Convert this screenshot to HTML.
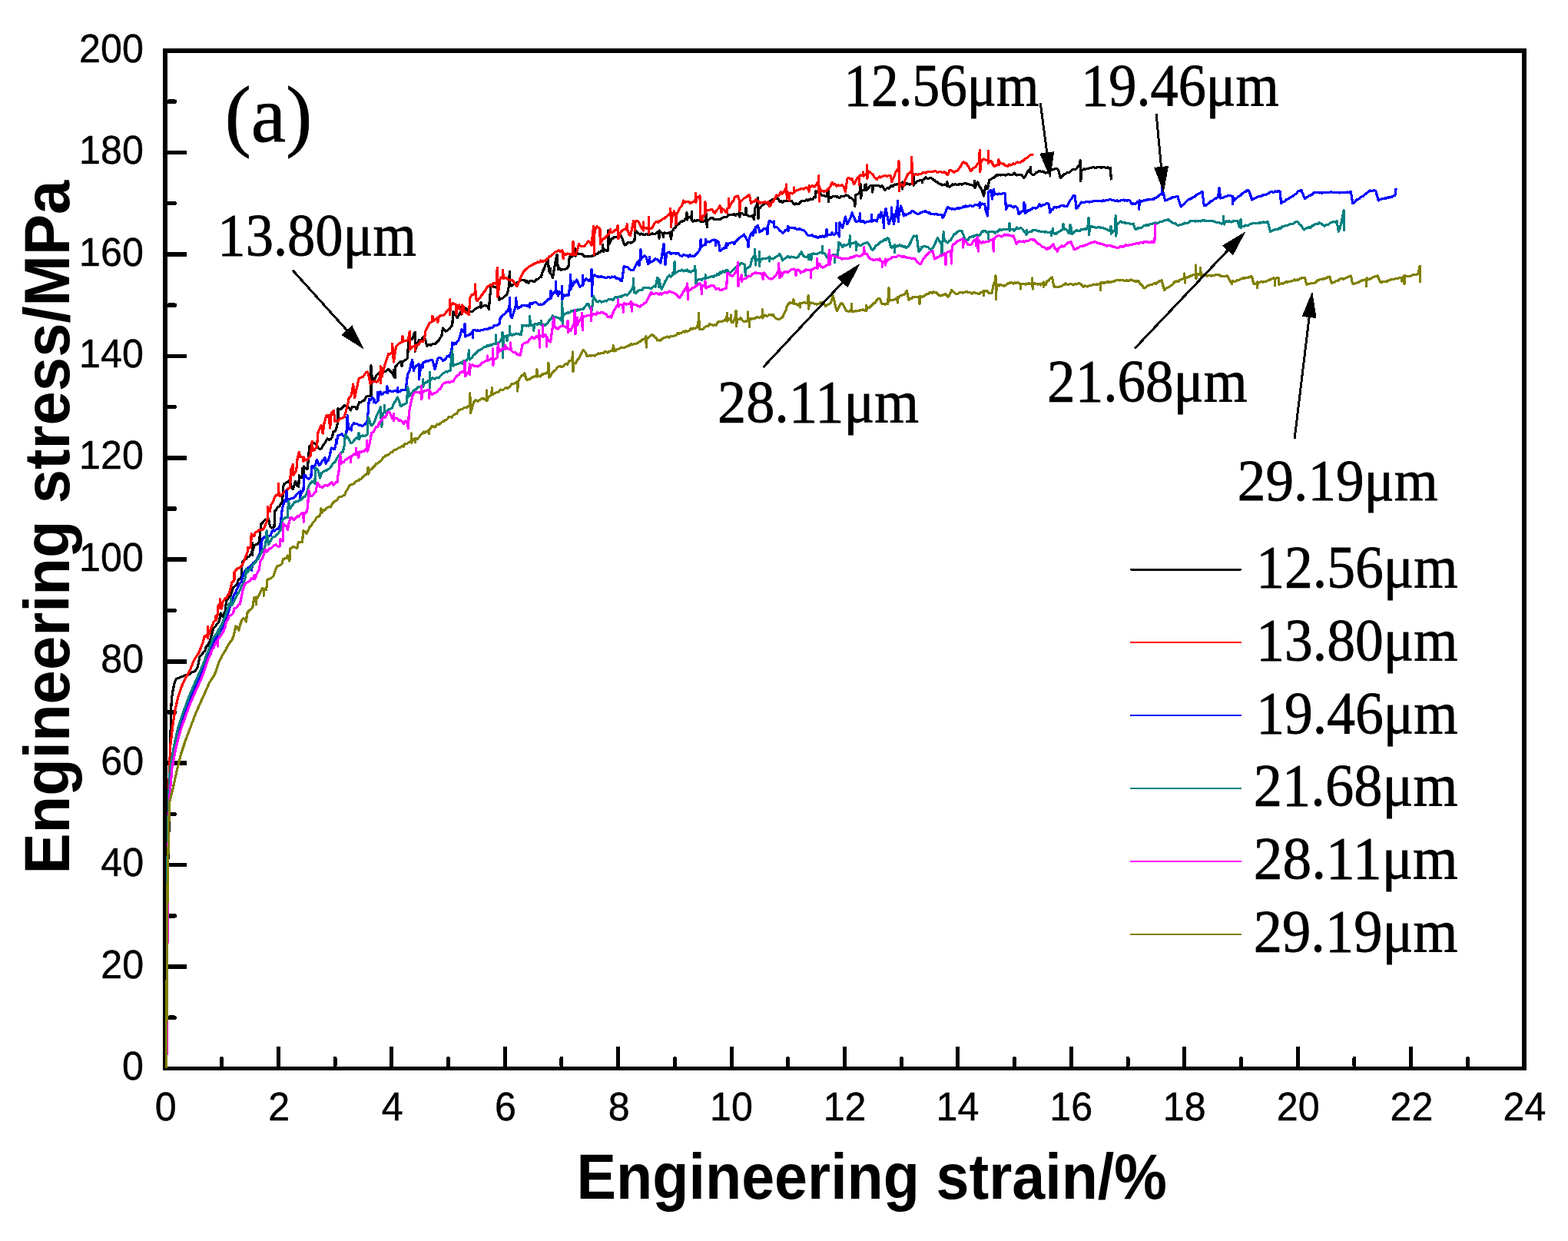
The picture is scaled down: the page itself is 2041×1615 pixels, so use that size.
<!DOCTYPE html>
<html><head><meta charset="utf-8"><title>Engineering stress-strain curves</title>
<style>html,body{margin:0;padding:0;background:#fff;}svg{display:block;}</style></head>
<body>
<svg width="2041" height="1615" viewBox="0 0 2041 1615" shape-rendering="crispEdges">
<rect x="0" y="0" width="2041" height="1615" fill="#fff"/>
<g fill="#000">
<rect x="212" y="63" width="6" height="1330"/>
<rect x="212" y="63" width="1775" height="6"/>
<rect x="1981" y="63" width="6" height="1330"/>
<rect x="212" y="1388" width="1775" height="5"/>
<rect x="286.21" y="1375" width="5" height="14" rx="2.5"/>
<rect x="359.92" y="1362" width="5" height="27"/>
<rect x="433.63" y="1375" width="5" height="14" rx="2.5"/>
<rect x="507.34" y="1362" width="5" height="27"/>
<rect x="581.05" y="1375" width="5" height="14" rx="2.5"/>
<rect x="654.76" y="1362" width="5" height="27"/>
<rect x="728.47" y="1375" width="5" height="14" rx="2.5"/>
<rect x="802.18" y="1362" width="5" height="27"/>
<rect x="875.89" y="1375" width="5" height="14" rx="2.5"/>
<rect x="949.6" y="1362" width="5" height="27"/>
<rect x="1023.31" y="1375" width="5" height="14" rx="2.5"/>
<rect x="1097.02" y="1362" width="5" height="27"/>
<rect x="1170.73" y="1375" width="5" height="14" rx="2.5"/>
<rect x="1244.44" y="1362" width="5" height="27"/>
<rect x="1318.15" y="1375" width="5" height="14" rx="2.5"/>
<rect x="1391.86" y="1362" width="5" height="27"/>
<rect x="1465.57" y="1375" width="5" height="14" rx="2.5"/>
<rect x="1539.28" y="1362" width="5" height="27"/>
<rect x="1612.99" y="1375" width="5" height="14" rx="2.5"/>
<rect x="1686.7" y="1362" width="5" height="27"/>
<rect x="1760.41" y="1375" width="5" height="14" rx="2.5"/>
<rect x="1834.12" y="1362" width="5" height="27"/>
<rect x="1907.83" y="1375" width="5" height="14" rx="2.5"/>
<rect x="217" y="1321.48" width="13" height="5.6" rx="2.8"/>
<rect x="217" y="1255.25" width="26" height="5.6"/>
<rect x="217" y="1189.03" width="13" height="5.6" rx="2.8"/>
<rect x="217" y="1122.8" width="26" height="5.6"/>
<rect x="217" y="1056.58" width="13" height="5.6" rx="2.8"/>
<rect x="217" y="990.35" width="26" height="5.6"/>
<rect x="217" y="924.12" width="13" height="5.6" rx="2.8"/>
<rect x="217" y="857.9" width="26" height="5.6"/>
<rect x="217" y="791.68" width="13" height="5.6" rx="2.8"/>
<rect x="217" y="725.45" width="26" height="5.6"/>
<rect x="217" y="659.23" width="13" height="5.6" rx="2.8"/>
<rect x="217" y="593" width="26" height="5.6"/>
<rect x="217" y="526.78" width="13" height="5.6" rx="2.8"/>
<rect x="217" y="460.55" width="26" height="5.6"/>
<rect x="217" y="394.33" width="13" height="5.6" rx="2.8"/>
<rect x="217" y="328.1" width="26" height="5.6"/>
<rect x="217" y="261.87" width="13" height="5.6" rx="2.8"/>
<rect x="217" y="195.65" width="26" height="5.6"/>
<rect x="217" y="129.43" width="13" height="5.6" rx="2.8"/>
</g>
<path d="M216.8,1390.0 L217.3,1250.0 L218.0,1150.0 L220.0,1080.0 L221.4,1000.0 L221.9,958.9 L222.9,919.3 L223.4,909.4 L224.9,899.5 L226.9,889.6 L229.3,883.6 L236.8,880.6 L241.7,878.7 L246.7,877.7 L249.7,874.7 L253.6,873.7 L256.6,869.7 L258.6,862.8 L259.6,854.9 L261.4,852.9 L263.1,851.7 L264.9,848.5 L266.8,847.2 L268.6,841.0 L270.5,839.6 L272.3,836.6 L274.1,831.4 L276.0,824.0 L278.2,817.3 L280.1,815.7 L282.0,812.8 L283.9,810.6 L285.7,806.9 L287.1,798.0 L290.1,802.4 L293.1,795.0 L294.6,781.6 L296.6,779.1 L298.5,777.0 L300.5,774.2 L303.5,764.5 L305.2,763.4 L307.0,761.8 L308.7,759.3 L310.9,753.4 L313.9,753.4 L314.9,736.7 L316.1,730.5 L318.2,728.5 L320.4,727.4 L322.5,725.0 L324.5,723.9 L326.6,721.2 L328.3,717.3 L328.5,706.7 L328.7,722.3 L328.9,717.3 L329.9,713.3 L331.6,709.4 L333.7,708.2 L335.7,707.9 L337.8,705.1 L338.4,692.1 L340.2,681.0 L341.9,680.4 L343.5,678.1 L345.2,676.0 L347.4,677.2 L349.5,674.8 L351.4,684.7 L353.3,687.1 L355.1,686.4 L357.0,685.9 L357.6,665.5 L359.8,663.0 L361.9,659.3 L363.6,659.0 L365.2,656.1 L366.9,653.7 L367.8,649.8 L368.4,634.3 L369.6,630.0 L371.3,629.3 L372.9,627.4 L374.6,627.5 L377.1,625.0 L379.2,633.6 L381.4,636.8 L384.5,626.3 L386.6,631.8 L388.8,633.1 L389.4,618.8 L391.3,621.0 L393.1,620.9 L393.3,609.7 L393.6,621.1 L395.0,617.0 L395.6,607.1 L397.8,609.2 L400.0,610.8 L401.8,595.9 L402.4,581.1 L404.3,579.2 L406.1,578.4 L408.0,576.7 L410.5,577.3 L412.4,580.1 L414.2,582.7 L416.1,584.8 L418.5,583.7 L420.9,579.0 L422.7,576.8 L424.5,573.3 L426.3,570.8 L428.4,572.2 L430.4,571.7 L432.5,568.8 L433.8,562.0 L435.9,561.7 L437.9,557.2 L439.9,548.3 L439.9,531.3 L441.6,532.9 L443.4,532.7 L445.8,530.4 L448.1,527.9 L450.5,528.2 L452.9,529.3 L454.6,531.2 L456.3,534.0 L458.4,529.5 L460.4,529.3 L462.4,529.9 L464.5,532.7 L466.2,527.1 L467.9,523.1 L469.9,523.4 L472.0,521.5 L474.0,521.1 L476.7,516.3 L478.8,515.7 L480.8,515.3 L482.9,515.3 L482.9,475.5 L484.7,498.0 L486.4,495.1 L488.1,491.9 L489.9,488.7 L491.6,486.7 L493.3,485.9 L495.1,485.6 L496.8,485.3 L498.5,485.1 L500.3,483.3 L502.0,483.3 L504.1,481.2 L506.3,480.7 L508.2,483.4 L510.2,484.8 L512.1,488.4 L512.4,481.3 L512.6,490.0 L514.1,491.9 L514.1,477.2 L515.8,476.5 L517.6,474.0 L519.3,472.0 L521.0,470.7 L522.8,471.5 L523.0,476.2 L523.3,470.6 L524.5,470.3 L526.3,469.4 L528.5,467.8 L530.6,465.9 L531.5,445.1 L533.2,442.7 L535.0,440.6 L536.7,441.7 L538.4,436.0 L540.1,432.1 L540.1,457.3 L541.8,451.6 L543.6,446.5 L545.3,442.5 L547.0,443.6 L548.8,441.8 L550.5,439.0 L552.3,438.2 L554.0,443.4 L555.7,450.3 L557.5,448.8 L559.2,448.9 L561.0,449.1 L562.7,447.7 L564.4,447.3 L566.2,447.6 L567.9,445.9 L569.6,444.3 L571.3,442.6 L573.1,439.5 L574.8,437.3 L576.5,426.9 L578.2,429.3 L580.0,431.3 L581.7,430.5 L583.5,428.9 L585.2,427.6 L587.0,425.3 L588.7,423.5 L590.0,405.4 L591.8,408.2 L593.6,410.7 L595.4,413.5 L597.0,410.2 L598.7,407.2 L600.3,405.8 L600.5,399.6 L600.7,409.0 L600.9,405.8 L602.0,402.7 L603.6,399.9 L605.3,400.9 L607.0,401.6 L608.7,405.0 L610.4,406.7 L612.1,405.9 L613.8,405.4 L615.5,404.9 L617.2,403.3 L618.9,401.7 L620.6,400.8 L622.4,400.1 L624.1,399.2 L625.8,399.7 L626.0,393.6 L626.3,400.4 L627.5,399.0 L629.2,398.4 L630.9,397.2 L632.7,397.9 L634.5,398.5 L636.3,402.6 L639.0,371.3 L640.6,370.6 L642.3,373.5 L643.9,373.4 L645.6,373.9 L647.2,375.4 L649.9,390.4 L651.7,389.0 L653.5,388.4 L655.3,387.3 L657.2,385.2 L659.0,384.7 L660.8,380.9 L662.5,372.0 L663.3,353.6 L664.0,371.3 L665.8,372.0 L667.5,370.4 L669.3,369.7 L671.1,369.1 L672.8,368.0 L674.6,368.2 L676.4,365.8 L678.1,363.7 L679.9,364.5 L681.5,364.4 L683.1,365.0 L684.8,367.4 L686.4,365.8 L688.0,368.6 L689.6,365.7 L691.3,365.4 L692.9,365.3 L694.6,366.8 L696.2,366.1 L697.8,363.8 L699.5,363.4 L701.1,362.5 L702.8,360.6 L704.4,360.4 L706.2,353.6 L708.0,350.1 L709.8,345.4 L711.5,340.9 L713.2,337.4 L714.5,352.0 L716.1,355.3 L716.3,349.3 L716.6,355.8 L717.8,357.3 L719.4,361.8 L721.3,350.4 L723.1,340.1 L725.0,331.3 L726.4,350.4 L728.4,349.0 L730.4,351.7 L732.0,350.1 L733.6,350.9 L735.2,350.5 L736.8,349.8 L738.4,348.9 L740.0,346.3 L741.3,334.0 L743.1,334.9 L744.9,333.0 L746.8,332.7 L748.6,331.6 L748.8,323.6 L749.1,333.2 L750.4,329.9 L752.2,330.0 L754.1,330.4 L756.0,330.4 L758.0,331.0 L759.9,333.0 L761.8,334.0 L763.6,333.3 L765.4,334.1 L767.2,333.2 L769.1,333.2 L770.9,333.0 L772.7,332.7 L774.4,332.3 L776.1,330.2 L777.8,330.8 L779.5,327.9 L781.2,328.4 L782.9,326.3 L784.6,326.8 L784.8,318.7 L785.1,328.0 L786.3,324.5 L787.9,325.1 L789.6,326.6 L791.2,325.9 L791.8,300.0 L792.5,318.0 L794.1,315.7 L795.8,310.9 L797.6,310.4 L799.5,308.1 L801.3,308.1 L803.0,308.6 L804.7,309.3 L806.4,307.7 L808.1,306.8 L809.9,310.5 L811.8,316.3 L813.6,319.0 L815.3,317.7 L817.1,315.8 L818.8,315.7 L820.6,316.0 L822.3,315.9 L824.1,314.3 L825.8,313.6 L827.2,300.0 L829.2,302.3 L831.3,304.1 L832.9,305.1 L834.6,304.0 L836.2,304.5 L837.8,305.6 L839.5,305.7 L841.1,304.6 L842.7,305.0 L844.3,305.7 L846.0,305.1 L847.6,304.1 L849.3,304.0 L851.0,304.3 L852.7,304.9 L854.4,303.4 L856.1,301.6 L857.8,301.3 L858.0,310.1 L858.3,300.0 L859.5,302.2 L861.2,302.7 L863.0,303.7 L863.2,308.8 L863.5,303.6 L864.8,302.8 L866.7,303.7 L868.5,303.5 L870.3,303.2 L872.1,302.7 L873.5,310.9 L875.0,300.0 L876.0,300.0 L877.4,297.0 L879.1,295.9 L880.7,292.7 L882.4,292.0 L884.0,291.5 L885.6,288.7 L887.2,288.2 L888.8,287.8 L890.5,287.6 L892.1,284.9 L893.7,285.5 L893.9,276.3 L894.2,286.0 L895.3,283.6 L896.9,282.7 L898.5,282.1 L900.4,286.1 L900.6,275.5 L900.9,286.2 L902.2,288.3 L903.9,286.8 L905.7,287.8 L907.4,286.8 L909.2,286.7 L910.9,287.1 L912.8,288.5 L914.6,287.8 L916.4,288.2 L918.3,287.1 L919.0,283.0 L919.6,278.4 L920.2,295.8 L921.0,287.0 L923.4,285.2 L925.8,283.4 L927.4,283.5 L929.1,285.1 L930.8,285.5 L932.4,285.5 L934.1,285.9 L935.7,285.8 L937.4,285.6 L939.1,284.1 L940.9,283.4 L942.6,282.5 L944.3,282.1 L946.4,282.2 L948.4,279.3 L950.5,279.6 L952.2,279.2 L954.0,279.5 L955.7,278.7 L957.5,280.3 L959.2,278.4 L960.9,279.0 L962.5,278.5 L962.7,267.1 L962.9,282.6 L963.1,278.5 L964.2,277.5 L965.8,277.3 L967.5,279.0 L969.1,279.4 L970.8,279.2 L971.0,270.8 L971.2,279.7 L972.4,279.8 L974.0,280.8 L975.7,281.2 L977.4,281.6 L979.0,280.9 L981.5,285.8 L982.7,271.0 L984.4,267.6 L986.0,265.0 L986.5,257.3 L987.0,284.6 L987.7,271.0 L989.8,270.1 L991.8,267.5 L993.9,266.0 L995.5,265.0 L997.1,264.1 L998.7,265.1 L1000.3,263.6 L1002.0,261.8 L1003.6,262.4 L1005.2,259.6 L1006.8,259.5 L1008.4,259.2 L1010.0,258.6 L1011.2,257.2 L1013.0,259.0 L1014.9,262.1 L1016.7,261.4 L1018.4,263.4 L1020.2,261.9 L1022.0,261.5 L1023.8,260.8 L1025.5,261.5 L1027.3,260.9 L1029.0,261.8 L1030.8,261.8 L1032.5,264.6 L1034.3,266.1 L1036.0,264.6 L1037.8,265.5 L1039.5,265.5 L1041.3,263.8 L1043.1,261.8 L1044.9,261.1 L1046.6,261.7 L1048.4,260.9 L1050.0,260.0 L1051.7,261.1 L1053.3,259.7 L1055.0,258.8 L1056.6,259.3 L1058.2,259.5 L1059.9,256.2 L1061.5,257.2 L1062.0,248.5 L1063.7,250.7 L1065.5,250.1 L1067.2,250.6 L1069.0,253.4 L1070.7,254.7 L1072.5,254.6 L1074.4,255.3 L1076.2,254.9 L1076.5,250.2 L1076.8,255.2 L1078.1,255.3 L1078.3,245.1 L1078.5,262.6 L1078.7,255.3 L1080.0,257.2 L1081.8,257.2 L1083.4,256.0 L1085.0,255.8 L1086.6,255.4 L1088.2,256.0 L1089.8,255.9 L1091.5,257.0 L1093.1,257.5 L1094.7,255.5 L1096.3,255.4 L1097.9,255.9 L1099.6,255.2 L1101.2,253.8 L1102.8,254.6 L1104.5,255.0 L1106.2,257.3 L1107.8,257.2 L1110.0,259.2 L1112.2,262.1 L1112.8,268.3 L1114.0,253.5 L1115.9,252.8 L1117.7,252.1 L1119.6,249.0 L1120.2,239.8 L1120.8,258.0 L1121.5,248.0 L1123.9,247.3 L1125.7,247.1 L1125.9,240.8 L1126.2,247.9 L1127.4,246.0 L1127.6,239.9 L1127.9,247.4 L1129.2,245.8 L1131.0,244.3 L1132.7,241.6 L1134.5,242.0 L1135.1,241.1 L1135.7,250.0 L1136.4,243.0 L1138.1,241.3 L1139.8,241.7 L1141.6,241.9 L1143.3,241.5 L1145.0,242.3 L1146.0,243.3 L1147.9,241.9 L1149.8,244.1 L1151.7,247.2 L1153.5,246.1 L1155.3,244.5 L1157.1,245.3 L1158.8,243.1 L1160.6,241.4 L1162.4,242.4 L1164.2,240.0 L1166.0,240.7 L1167.6,239.4 L1169.2,239.0 L1170.9,238.4 L1172.5,239.2 L1174.1,238.4 L1174.3,246.0 L1174.6,237.0 L1175.8,238.5 L1177.4,240.3 L1179.0,240.0 L1180.6,238.3 L1182.2,239.5 L1183.9,240.2 L1185.5,239.4 L1187.1,239.0 L1188.8,237.7 L1189.0,226.4 L1189.2,241.2 L1189.3,237.7 L1190.4,238.0 L1192.0,238.1 L1193.6,235.7 L1195.2,235.6 L1196.9,235.0 L1198.5,234.2 L1200.1,234.2 L1200.3,237.5 L1200.6,234.2 L1201.8,233.8 L1203.4,232.8 L1205.0,231.0 L1206.6,232.2 L1208.2,232.6 L1209.9,231.9 L1211.5,231.6 L1213.1,232.3 L1214.8,233.9 L1216.4,234.6 L1218.0,236.8 L1219.6,236.4 L1221.2,238.4 L1222.9,239.1 L1224.5,239.5 L1226.1,241.0 L1227.8,240.4 L1229.4,240.1 L1231.0,240.7 L1232.7,242.4 L1232.9,236.4 L1233.2,242.5 L1234.5,241.8 L1236.2,243.3 L1238.2,241.7 L1240.1,239.9 L1242.0,240.3 L1244.0,239.4 L1245.6,240.6 L1247.2,240.6 L1248.9,239.4 L1250.5,239.7 L1252.1,240.2 L1253.8,239.6 L1255.4,238.6 L1257.0,238.1 L1258.6,239.8 L1260.2,239.4 L1261.9,240.5 L1263.5,240.5 L1265.1,240.9 L1266.8,241.2 L1268.4,243.0 L1268.6,235.5 L1268.9,244.7 L1270.0,242.0 L1272.6,236.8 L1274.3,241.7 L1276.1,244.0 L1277.8,247.2 L1280.4,255.0 L1283.0,242.0 L1285.5,245.4 L1287.7,234.5 L1289.8,233.6 L1291.8,231.8 L1293.6,231.9 L1295.5,229.4 L1297.3,227.7 L1299.0,228.2 L1300.6,227.3 L1302.3,228.0 L1303.9,227.1 L1305.6,227.4 L1307.2,227.4 L1308.9,228.0 L1310.5,227.9 L1312.2,226.3 L1313.8,227.4 L1315.4,227.8 L1317.0,227.6 L1318.6,226.8 L1320.2,225.0 L1321.9,226.9 L1323.5,228.2 L1325.1,227.1 L1326.7,227.5 L1328.3,227.5 L1329.9,227.7 L1332.7,231.8 L1334.4,229.4 L1336.1,226.7 L1337.8,222.6 L1339.5,220.9 L1341.3,224.6 L1341.5,217.4 L1341.8,224.9 L1343.1,226.8 L1344.9,227.7 L1346.7,226.8 L1348.5,224.7 L1350.3,224.4 L1352.2,222.7 L1354.0,222.9 L1355.8,223.6 L1357.4,222.9 L1359.1,224.1 L1360.7,225.2 L1362.4,224.2 L1364.0,224.9 L1365.8,222.4 L1367.6,221.9 L1369.4,220.9 L1371.0,220.4 L1372.7,219.9 L1374.3,219.7 L1376.0,219.3 L1377.6,220.9 L1380.3,231.8 L1382.1,229.8 L1384.0,228.1 L1385.8,226.3 L1387.4,226.2 L1389.1,224.7 L1390.7,224.5 L1392.3,224.3 L1393.9,222.9 L1395.6,220.8 L1397.2,220.2 L1398.8,220.5 L1400.5,220.2 L1402.1,218.1 L1403.8,216.2 L1405.6,214.0 L1406.2,208.6 L1406.8,235.8 L1407.5,222.0 L1409.2,221.1 L1411.0,220.0 L1412.7,220.7 L1414.4,219.5 L1416.1,219.4 L1417.8,218.8 L1419.5,218.7 L1421.2,218.1 L1423.1,217.7 L1425.0,218.1 L1426.8,218.4 L1428.5,217.6 L1430.2,217.7 L1431.8,217.8 L1433.5,218.1 L1435.2,217.9 L1436.9,217.3 L1438.6,217.9 L1440.3,218.6 L1441.9,217.9 L1443.6,219.1 L1445.3,218.4 L1446.4,234.5" fill="none" stroke="#000000" stroke-width="3.2" stroke-linejoin="round" stroke-linecap="butt" shape-rendering="crispEdges"/>
<path d="M216.8,1390.0 L217.3,1250.0 L218.0,1120.0 L219.5,1040.0 L220.4,1000.0 L221.9,968.8 L224.9,944.1 L227.9,924.2 L231.8,907.4 L236.8,892.5 L241.7,881.6 L246.7,873.7 L252.2,860.0 L254.1,856.7 L255.9,853.9 L257.8,851.4 L259.7,847.7 L262.6,839.6 L264.5,834.9 L266.3,827.7 L268.3,828.1 L270.3,825.9 L270.5,815.3 L270.7,830.4 L270.9,825.9 L272.3,825.4 L274.5,818.0 L276.4,814.1 L278.2,809.1 L280.4,807.4 L280.6,801.8 L280.9,807.6 L282.7,803.2 L284.2,787.5 L286.0,790.5 L286.2,779.8 L286.5,791.7 L287.9,788.3 L288.6,792.0 L290.1,783.1 L293.1,778.6 L294.8,778.6 L296.6,774.6 L298.3,772.7 L299.8,766.7 L302.0,757.8 L305.0,754.9 L305.0,744.5 L307.1,742.0 L309.3,739.8 L311.4,739.0 L313.4,737.8 L315.5,734.8 L317.6,730.5 L319.8,724.3 L322.3,718.1 L322.3,712.5 L324.5,713.0 L326.6,711.9 L327.2,694.6 L329.1,696.9 L331.0,697.1 L332.2,693.3 L333.9,692.3 L335.5,691.3 L337.2,689.6 L339.2,689.9 L341.3,689.7 L343.3,687.8 L345.2,683.6 L347.1,679.7 L348.3,674.8 L348.3,659.3 L351.4,665.5 L352.6,657.4 L355.7,652.5 L357.4,647.5 L359.1,644.8 L360.8,643.7 L362.5,644.1 L362.7,629.5 L363.0,644.5 L364.2,645.7 L365.9,644.8 L368.0,642.7 L370.2,639.9 L372.4,638.4 L374.6,636.2 L377.7,634.3 L378.3,612.6 L381.4,604.6 L382.0,618.8 L383.9,615.0 L385.7,612.6 L387.0,597.8 L389.4,588.5 L390.7,594.7 L393.2,594.7 L394.8,596.2 L395.0,601.0 L395.3,594.9 L396.5,598.5 L398.1,599.0 L400.2,598.4 L402.2,595.2 L404.3,592.8 L406.2,574.2 L407.4,586.6 L409.1,585.9 L410.7,583.7 L412.4,581.7 L414.1,562.0 L416.1,557.9 L418.1,553.8 L420.2,564.0 L422.2,549.7 L425.0,540.8 L427.7,540.2 L429.7,557.2 L431.1,538.1 L432.8,535.8 L434.5,534.7 L435.9,548.3 L437.9,547.2 L439.9,548.3 L441.5,545.8 L443.2,544.6 L444.8,544.4 L446.5,543.5 L448.1,542.9 L450.8,533.4 L452.6,526.3 L454.3,517.7 L456.0,516.4 L457.7,512.9 L459.7,500.0 L461.7,517.7 L463.5,508.5 L465.4,500.6 L467.2,492.5 L469.0,491.8 L470.8,490.8 L472.6,490.4 L474.6,487.4 L476.6,484.6 L478.6,484.1 L480.4,490.5 L482.1,499.7 L484.0,496.8 L485.8,496.6 L487.7,496.6 L489.6,497.1 L491.4,496.8 L493.3,492.8 L495.0,492.0 L495.2,476.7 L495.4,498.7 L495.6,492.0 L496.8,488.7 L497.0,478.7 L497.3,490.3 L498.5,484.1 L500.2,478.0 L502.0,471.1 L503.8,466.1 L505.5,460.7 L507.2,461.1 L509.0,459.7 L510.7,458.1 L510.7,447.7 L512.4,471.1 L514.1,459.4 L515.9,450.3 L517.9,448.8 L519.9,446.5 L521.9,446.0 L523.9,444.1 L524.1,437.2 L524.4,444.8 L526.0,443.7 L528.0,443.4 L529.8,443.2 L531.5,441.7 L533.2,431.3 L533.2,454.7 L534.9,453.3 L536.7,451.5 L538.4,450.5 L540.1,451.1 L540.3,456.1 L540.6,449.7 L541.9,450.5 L543.6,448.6 L545.3,448.2 L547.1,444.2 L548.8,444.0 L550.6,444.4 L552.3,441.7 L554.0,430.4 L555.7,426.9 L557.5,424.1 L559.2,420.0 L561.0,419.3 L562.7,417.9 L562.9,411.1 L563.2,418.2 L564.5,417.3 L566.2,415.8 L568.0,415.0 L569.7,413.4 L569.9,419.3 L570.2,413.0 L571.5,412.9 L573.2,410.8 L574.9,410.3 L576.7,410.2 L578.4,409.5 L580.1,407.4 L581.9,404.9 L583.6,403.0 L585.4,401.3 L585.6,389.8 L585.8,409.8 L586.0,401.3 L587.1,397.5 L588.9,394.7 L590.0,394.5 L591.9,395.9 L593.8,396.8 L594.0,409.1 L594.3,396.6 L595.7,398.5 L597.6,400.9 L597.8,396.8 L598.0,402.5 L598.2,400.9 L599.5,403.2 L601.3,403.3 L601.5,396.9 L601.7,408.3 L601.9,403.3 L603.1,404.2 L603.3,398.7 L603.6,405.7 L605.0,404.7 L606.8,407.2 L608.6,406.9 L610.4,409.5 L611.8,387.7 L613.9,384.0 L615.9,383.3 L618.0,382.0 L618.6,370.0 L619.3,388.0 L621.3,391.7 L623.0,388.7 L624.7,387.8 L626.4,384.7 L628.1,383.2 L629.8,380.3 L631.5,378.6 L633.2,375.2 L634.9,372.7 L636.6,371.8 L638.2,370.5 L639.9,372.0 L641.5,369.0 L643.2,368.5 L644.8,369.1 L646.5,368.0 L647.2,348.2 L647.8,386.3 L649.5,373.1 L651.3,361.8 L653.0,360.8 L654.6,361.4 L654.8,351.2 L655.1,362.6 L656.3,361.6 L658.0,361.2 L659.6,362.6 L661.3,363.4 L663.0,364.1 L664.6,364.1 L666.3,364.5 L668.0,365.7 L669.7,368.5 L671.4,371.2 L673.1,372.7 L674.8,367.8 L676.5,364.2 L678.2,360.4 L679.9,356.3 L681.7,353.2 L683.5,351.5 L685.3,349.5 L686.9,348.8 L688.6,347.0 L690.2,346.0 L691.9,345.3 L693.5,344.1 L695.2,343.8 L696.9,342.1 L698.6,342.1 L700.3,340.7 L702.0,341.8 L703.7,339.1 L705.4,340.3 L707.1,340.0 L708.7,339.5 L710.4,338.9 L712.0,337.1 L713.6,335.9 L715.2,333.2 L716.9,333.8 L718.5,331.5 L720.1,330.6 L721.7,328.6 L723.4,327.5 L725.0,327.2 L726.7,325.9 L728.4,326.7 L730.1,327.6 L731.8,325.9 L732.5,330.0 L733.2,336.8 L734.0,330.0 L736.3,331.6 L738.6,329.9 L740.4,330.5 L742.2,330.6 L744.0,331.6 L745.9,330.3 L746.1,314.3 L746.4,331.6 L747.7,331.0 L749.5,331.3 L751.5,325.3 L753.6,317.7 L755.4,320.0 L757.3,320.6 L759.1,320.4 L760.8,320.6 L762.5,318.1 L764.2,316.2 L765.9,313.6 L768.0,315.7 L770.0,319.0 L772.0,300.0 L772.7,294.5 L773.3,331.3 L774.0,300.0 L776.8,294.5 L778.8,296.2 L780.9,297.2 L781.3,317.7 L783.1,314.4 L784.9,310.9 L786.7,310.5 L788.5,308.7 L790.3,306.4 L792.2,304.6 L794.0,302.3 L794.2,298.1 L794.5,302.9 L795.8,302.7 L797.7,302.1 L799.6,300.1 L801.5,299.6 L803.4,298.0 L804.0,293.2 L804.7,310.9 L807.1,304.7 L809.5,300.0 L811.6,298.9 L813.6,298.6 L815.7,296.0 L816.3,291.8 L817.0,300.0 L818.7,304.6 L820.4,306.8 L822.5,298.9 L824.5,287.7 L826.2,289.7 L826.4,299.6 L826.7,288.7 L827.9,288.1 L829.6,287.2 L831.3,289.1 L833.3,292.7 L835.4,297.2 L837.1,296.5 L837.3,288.9 L837.5,300.2 L837.7,296.5 L838.9,296.1 L840.6,297.3 L842.4,296.5 L844.1,298.3 L844.3,282.4 L844.5,303.7 L844.7,298.3 L845.9,298.0 L847.6,297.2 L849.4,295.5 L851.3,292.0 L853.1,289.1 L854.7,288.6 L856.3,289.5 L858.0,287.9 L859.6,287.3 L861.2,286.3 L863.0,284.7 L864.8,284.1 L866.7,282.5 L868.5,281.1 L870.3,279.4 L872.1,278.2 L872.8,271.4 L873.5,295.9 L874.5,282.0 L875.5,282.0 L877.4,274.7 L879.3,280.0 L879.9,292.0 L880.5,280.0 L882.1,276.1 L883.7,273.4 L885.4,269.9 L887.0,268.9 L888.6,264.8 L889.8,261.1 L891.5,263.3 L893.3,262.5 L895.0,262.5 L896.8,262.4 L898.5,264.8 L900.2,263.8 L902.0,262.9 L903.7,262.4 L905.5,259.1 L905.7,251.4 L905.9,263.6 L906.1,259.1 L907.2,257.3 L909.0,256.6 L910.9,254.9 L912.1,285.8 L914.0,282.4 L914.2,286.8 L914.5,281.1 L915.9,281.3 L917.7,277.8 L917.9,262.7 L918.2,278.6 L919.6,273.5 L921.7,273.2 L923.7,273.6 L925.8,272.2 L927.4,273.4 L929.1,276.0 L930.7,277.2 L932.8,273.8 L934.8,271.9 L936.9,267.3 L938.8,271.3 L939.0,276.5 L939.2,271.1 L940.6,272.0 L942.4,272.9 L944.3,275.9 L946.4,272.8 L946.6,277.0 L946.9,271.2 L948.4,270.2 L948.6,258.3 L948.9,270.9 L950.5,267.3 L952.6,263.4 L954.6,261.7 L956.7,256.1 L958.5,255.9 L960.4,254.9 L962.3,260.0 L962.9,274.7 L963.6,262.0 L965.4,261.2 L967.3,259.4 L969.1,257.3 L971.2,256.7 L973.2,254.5 L975.3,253.6 L977.8,264.8 L979.9,262.7 L981.9,262.3 L984.0,259.8 L985.6,261.9 L987.3,261.5 L988.9,264.8 L990.5,263.5 L992.1,263.3 L993.7,263.6 L995.3,262.9 L996.9,263.2 L998.5,264.2 L1000.1,262.3 L1001.3,268.5 L1003.0,267.4 L1004.8,262.9 L1006.5,262.5 L1008.3,259.4 L1010.0,256.1 L1010.5,254.0 L1012.4,254.9 L1014.3,253.8 L1016.2,249.7 L1017.8,252.6 L1019.5,250.7 L1021.1,248.5 L1023.0,245.0 L1023.6,239.8 L1024.3,258.4 L1025.0,250.0 L1027.4,251.7 L1027.6,260.6 L1027.9,251.5 L1029.8,251.0 L1031.6,251.9 L1033.3,250.0 L1033.5,244.0 L1033.8,250.8 L1035.1,249.2 L1036.9,247.8 L1038.7,247.9 L1040.4,246.3 L1042.2,246.0 L1044.0,245.6 L1045.7,246.2 L1047.5,244.9 L1049.3,244.1 L1051.1,245.7 L1052.8,243.6 L1053.0,249.1 L1053.3,241.8 L1054.6,243.5 L1056.4,242.1 L1058.3,242.0 L1060.2,243.5 L1062.0,241.1 L1065.1,236.0 L1065.7,228.7 L1066.3,262.1 L1067.0,245.0 L1068.8,248.3 L1070.7,248.5 L1072.4,249.7 L1074.1,248.2 L1075.9,248.5 L1077.6,246.3 L1079.3,244.8 L1081.2,242.1 L1083.1,237.3 L1085.2,240.1 L1087.2,239.6 L1089.3,242.3 L1091.0,240.6 L1092.7,241.4 L1094.5,241.2 L1096.2,240.8 L1097.9,242.3 L1100.4,249.7 L1102.9,232.4 L1105.0,231.6 L1107.0,233.7 L1109.1,232.4 L1111.6,239.8 L1113.2,236.9 L1114.9,233.6 L1116.5,231.2 L1118.2,230.4 L1118.4,240.3 L1118.7,228.7 L1120.0,227.9 L1121.7,228.8 L1123.5,228.5 L1123.7,223.9 L1124.0,229.8 L1125.2,227.4 L1126.8,227.0 L1128.5,226.6 L1128.7,214.8 L1128.9,232.5 L1129.1,226.6 L1130.1,222.5 L1132.2,224.1 L1134.2,225.5 L1136.3,227.4 L1138.0,230.6 L1139.6,231.8 L1141.3,233.6 L1143.2,231.2 L1145.0,229.9 L1146.0,231.0 L1147.7,230.0 L1149.4,229.6 L1151.1,228.7 L1152.8,228.3 L1154.4,229.8 L1156.1,228.4 L1157.8,228.2 L1159.5,229.0 L1160.8,236.8 L1162.5,232.3 L1164.3,228.6 L1166.0,223.8 L1167.7,221.4 L1169.3,220.0 L1169.9,209.5 L1170.5,248.5 L1171.2,240.0 L1172.9,239.5 L1174.7,240.7 L1176.4,242.0 L1178.1,234.4 L1179.9,231.2 L1181.6,226.4 L1183.9,225.3 L1186.2,222.0 L1186.8,204.3 L1187.4,239.4 L1188.0,228.0 L1189.7,227.6 L1191.3,227.0 L1192.9,226.3 L1194.6,227.7 L1196.3,226.2 L1198.1,226.5 L1199.8,225.8 L1201.5,224.6 L1203.3,224.8 L1205.0,225.1 L1206.6,223.8 L1208.2,223.6 L1209.9,223.5 L1211.5,223.8 L1213.1,223.3 L1214.8,223.4 L1216.4,222.5 L1218.0,222.5 L1219.6,224.1 L1221.2,224.3 L1222.9,223.1 L1224.5,223.5 L1226.1,224.6 L1227.8,224.5 L1229.4,223.8 L1231.0,225.1 L1233.6,227.7 L1236.2,221.2 L1238.2,221.5 L1240.1,223.1 L1242.0,224.3 L1244.0,222.5 L1246.0,222.6 L1247.9,219.9 L1249.5,217.9 L1251.2,215.0 L1252.8,212.0 L1254.4,210.8 L1256.2,212.1 L1258.0,213.0 L1259.9,215.7 L1261.7,219.2 L1263.5,222.5 L1265.1,220.7 L1266.8,218.7 L1268.4,218.2 L1270.0,217.3 L1272.3,213.1 L1274.6,212.0 L1275.2,195.2 L1275.8,223.8 L1276.5,212.0 L1278.5,208.7 L1280.4,206.9 L1282.3,207.9 L1284.2,208.4 L1286.2,208.7 L1286.4,196.3 L1286.6,212.9 L1286.8,208.7 L1288.1,210.9 L1290.0,209.5 L1291.0,211.0 L1293.2,215.4 L1294.8,216.7 L1296.4,215.3 L1298.1,214.5 L1299.7,213.6 L1299.9,207.4 L1300.2,214.9 L1301.3,211.3 L1303.0,212.4 L1304.8,213.2 L1306.5,213.1 L1308.2,215.4 L1310.0,215.3 L1311.8,216.8 L1313.6,214.0 L1315.4,215.0 L1317.2,214.5 L1319.0,212.7 L1320.8,213.3 L1322.6,212.0 L1324.5,210.9 L1326.3,211.9 L1328.1,211.4 L1329.9,210.0 L1331.8,209.5 L1333.7,207.2 L1335.7,205.7 L1337.6,205.0 L1339.5,203.2 L1341.3,201.4 L1343.1,201.3 L1344.9,201.1 L1345.3,201.6" fill="none" stroke="#FF0000" stroke-width="3.2" stroke-linejoin="round" stroke-linecap="butt" shape-rendering="crispEdges"/>
<path d="M216.8,1390.0 L217.3,1250.0 L218.0,1120.0 L220.0,1040.0 L222.5,1000.0 L227.5,972.0 L233.0,949.0 L239.5,930.0 L246.5,911.0 L253.5,895.5 L261.0,878.5 L269.3,860.0 L271.1,853.3 L272.9,849.7 L274.6,844.0 L274.8,850.8 L275.1,842.5 L276.4,839.1 L278.2,835.1 L280.0,832.7 L281.8,829.9 L283.5,827.9 L285.3,824.9 L285.5,820.2 L285.8,825.0 L287.1,821.0 L289.4,816.5 L291.6,811.3 L293.6,806.2 L295.5,802.2 L297.5,796.5 L299.4,789.5 L301.3,781.6 L303.1,778.0 L304.9,773.9 L306.7,771.0 L308.5,766.7 L310.3,762.3 L312.1,759.5 L313.9,757.8 L316.1,749.6 L318.4,743.0 L320.3,741.5 L322.2,739.8 L324.1,738.2 L326.0,736.7 L327.6,735.0 L327.8,742.4 L328.1,734.9 L329.2,732.9 L330.9,731.8 L332.5,730.4 L334.1,728.0 L336.1,724.0 L338.2,719.8 L338.4,708.0 L338.7,720.4 L340.2,718.1 L340.2,705.7 L342.1,700.8 L344.6,698.3 L346.7,698.7 L348.7,698.3 L350.8,697.1 L352.4,696.7 L354.1,691.8 L355.7,689.6 L357.8,691.0 L359.8,688.8 L361.9,688.4 L365.0,682.2 L366.3,671.7 L367.5,661.1 L369.2,656.0 L370.9,650.4 L372.8,650.6 L372.9,638.5 L373.2,652.6 L374.6,652.9 L376.2,649.8 L377.9,649.6 L379.5,648.5 L381.7,648.2 L383.9,646.7 L385.5,644.2 L387.2,642.3 L388.8,641.1 L390.6,640.2 L390.8,650.9 L391.1,638.9 L392.5,641.7 L395.0,637.4 L395.6,618.2 L397.5,618.6 L399.3,621.9 L401.8,623.2 L404.9,620.7 L405.5,607.1 L407.4,606.2 L409.3,609.5 L412.4,598.4 L415.4,605.8 L417.3,604.3 L419.1,600.0 L421.0,598.4 L422.9,595.3 L424.1,603.3 L425.8,600.6 L427.4,598.6 L429.1,592.8 L431.5,582.9 L433.4,583.6 L435.3,584.8 L437.6,576.1 L437.8,572.0 L438.1,576.9 L439.9,566.7 L441.5,566.6 L443.1,565.7 L444.7,564.7 L446.4,566.7 L448.1,568.8 L450.8,565.4 L452.2,540.8 L453.6,558.6 L455.3,558.0 L457.0,556.8 L457.2,560.1 L457.5,555.2 L458.7,553.5 L460.4,550.4 L462.8,551.9 L465.1,551.7 L466.8,553.4 L468.6,553.1 L470.3,553.9 L472.0,554.5 L474.0,552.8 L476.1,551.1 L478.1,547.0 L479.5,532.7 L480.3,519.7 L482.5,520.7 L484.7,517.1 L486.4,520.3 L486.6,523.8 L486.9,519.2 L488.2,524.1 L489.9,524.0 L491.6,521.2 L491.8,510.3 L492.1,521.9 L493.4,512.9 L495.1,509.3 L496.8,513.6 L498.5,512.3 L500.3,510.2 L502.0,510.1 L503.7,510.3 L503.9,502.7 L504.2,511.8 L505.5,509.4 L507.2,508.5 L509.0,509.1 L510.7,509.3 L512.4,509.0 L514.1,508.7 L515.9,508.9 L517.6,510.0 L517.8,504.7 L518.1,510.3 L519.3,509.3 L521.0,509.8 L522.8,507.2 L524.5,507.6 L526.3,507.6 L528.0,507.5 L530.6,487.6 L533.2,482.4 L535.0,474.1 L536.7,468.5 L538.4,482.4 L540.5,477.2 L542.7,475.5 L545.3,473.7 L545.3,493.7 L547.9,476.3 L549.9,473.9 L550.1,478.5 L550.4,472.1 L552.0,471.8 L554.0,470.3 L555.7,469.8 L557.5,470.0 L559.2,469.0 L561.0,468.1 L562.7,468.5 L564.4,474.1 L566.1,480.7 L567.9,474.0 L569.6,466.8 L571.3,465.5 L573.0,465.9 L574.8,466.9 L576.5,469.4 L578.2,468.5 L580.0,467.4 L581.7,463.9 L583.5,463.1 L585.2,464.2 L587.8,456.4 L588.7,446.0 L590.0,449.0 L591.7,446.3 L593.4,447.5 L595.1,444.4 L596.8,443.5 L598.8,437.5 L600.9,428.5 L602.6,429.9 L604.3,433.0 L605.0,421.7 L605.7,438.0 L607.7,437.0 L609.8,436.1 L611.8,435.3 L613.6,433.7 L615.4,431.2 L615.6,439.6 L615.9,429.5 L617.2,429.9 L618.8,429.8 L620.4,430.2 L622.0,429.9 L623.6,430.3 L625.2,430.2 L626.9,429.4 L628.5,429.7 L630.1,428.7 L631.7,428.7 L633.3,428.0 L634.9,428.5 L636.6,426.8 L638.2,427.1 L639.9,426.5 L641.6,425.9 L643.2,423.3 L644.9,423.5 L646.6,423.6 L648.2,422.4 L649.9,421.7 L651.3,413.5 L653.2,411.6 L655.1,409.6 L657.0,408.6 L658.9,406.3 L660.8,404.0 L663.0,400.0 L663.5,387.7 L664.2,410.0 L666.3,413.5 L668.6,406.3 L671.0,400.0 L671.7,387.7 L672.4,398.0 L674.4,401.3 L676.0,399.8 L677.7,399.3 L679.3,397.8 L681.0,397.3 L682.6,397.2 L684.3,397.1 L686.0,398.3 L687.7,397.8 L689.4,396.1 L689.6,400.1 L689.9,394.8 L691.1,394.8 L692.8,395.2 L694.5,394.2 L696.2,393.1 L698.0,393.3 L699.7,395.2 L701.5,396.7 L703.2,396.0 L705.0,396.7 L706.7,395.9 L708.5,394.5 L710.1,393.1 L711.8,391.5 L713.5,389.7 L715.1,389.0 L716.8,387.8 L717.0,378.0 L717.2,388.5 L718.4,383.8 L720.0,381.9 L721.7,380.3 L723.4,377.7 L723.6,366.2 L723.8,381.1 L724.0,377.7 L725.0,379.0 L726.5,385.0 L728.0,380.0 L729.7,381.2 L731.5,383.2 L731.7,372.6 L731.9,390.4 L732.1,383.2 L733.2,383.1 L734.9,385.1 L736.6,384.1 L738.3,383.8 L740.0,384.4 L742.2,370.0 L742.7,357.2 L743.3,376.0 L744.1,373.5 L745.8,370.8 L747.5,366.8 L749.2,367.4 L750.9,364.0 L753.0,369.4 L755.0,373.5 L756.6,371.9 L758.2,370.0 L758.4,358.7 L758.7,371.6 L759.9,367.0 L761.5,364.2 L763.1,362.6 L764.9,364.2 L766.8,365.8 L768.6,365.4 L769.5,360.0 L770.0,350.4 L770.5,385.8 L771.2,362.0 L774.0,357.2 L775.7,359.4 L777.4,360.0 L779.1,360.0 L780.9,360.9 L782.6,359.2 L784.3,360.3 L786.0,360.9 L787.7,361.3 L789.4,361.2 L791.2,360.8 L792.9,360.5 L794.7,361.6 L796.4,360.0 L798.2,360.2 L799.9,359.9 L801.5,362.2 L803.1,361.7 L804.7,362.6 L806.3,363.1 L807.9,365.2 L809.5,365.4 L812.2,346.3 L814.0,347.3 L815.8,347.4 L817.7,348.1 L819.5,350.7 L821.3,351.2 L823.1,351.7 L824.8,351.4 L826.5,347.6 L828.2,343.8 L829.9,340.8 L831.8,339.9 L832.0,345.4 L832.3,338.8 L833.7,337.9 L833.9,324.2 L834.2,338.1 L835.6,335.7 L837.5,334.0 L839.4,332.7 L841.5,335.1 L843.5,343.6 L845.1,341.4 L845.3,334.4 L845.6,341.9 L846.7,341.4 L848.3,340.3 L849.9,339.7 L851.5,338.6 L853.1,336.8 L854.8,337.9 L856.5,337.9 L858.2,340.1 L859.9,342.2 L862.0,330.3 L864.0,317.7 L866.0,345.0 L867.5,330.0 L869.4,328.6 L871.3,328.0 L873.1,330.2 L875.0,330.0 L876.0,329.2 L878.1,329.3 L880.3,330.1 L882.4,329.2 L884.2,331.9 L886.1,332.9 L887.8,333.9 L889.5,331.5 L891.2,331.8 L892.9,332.3 L894.6,332.3 L896.2,334.5 L897.9,331.8 L899.6,333.5 L901.3,333.0 L903.0,333.8 L904.7,332.3 L906.8,330.5 L908.8,328.0 L910.9,325.5 L911.5,318.0 L912.1,311.9 L912.8,322.0 L914.6,319.3 L916.5,319.1 L918.3,316.4 L918.5,311.5 L918.7,318.3 L918.9,316.4 L920.1,315.3 L922.0,314.3 L923.9,315.0 L925.8,313.2 L927.6,312.6 L929.5,311.9 L931.6,312.9 L931.8,319.6 L932.1,312.9 L933.6,313.8 L935.7,315.6 L936.9,326.7 L939.0,325.7 L941.0,323.1 L943.1,323.0 L945.0,320.6 L945.2,316.2 L945.4,322.3 L945.6,320.6 L946.8,319.6 L948.6,316.9 L950.5,316.8 L952.2,315.8 L954.0,315.1 L955.7,317.8 L957.5,314.7 L959.2,313.1 L961.1,310.9 L962.9,309.4 L964.8,307.6 L966.6,306.9 L968.3,305.0 L969.9,307.8 L971.6,310.6 L973.5,315.0 L974.1,321.8 L974.8,312.0 L976.6,306.9 L978.2,303.4 L979.9,302.2 L980.1,306.4 L980.4,301.3 L981.5,299.5 L983.2,296.9 L983.4,302.6 L983.7,295.6 L984.9,295.3 L986.5,293.3 L988.9,302.0 L990.8,300.7 L992.7,299.5 L994.5,297.6 L996.4,298.0 L998.3,296.0 L998.9,305.0 L999.5,294.5 L1001.3,287.1 L1003.2,288.1 L1005.1,289.7 L1007.0,290.0 L1007.5,288.1 L1008.0,296.0 L1009.6,295.6 L1011.2,295.6 L1013.3,298.0 L1015.3,300.2 L1017.4,301.8 L1019.0,303.6 L1020.7,301.6 L1022.3,299.7 L1024.0,298.6 L1025.6,298.4 L1025.8,294.4 L1026.0,300.2 L1026.2,298.4 L1027.3,295.6 L1029.0,296.9 L1030.6,296.3 L1032.3,296.1 L1033.9,297.0 L1035.6,297.0 L1037.2,298.7 L1038.9,298.5 L1040.5,297.8 L1042.2,298.1 L1043.8,299.1 L1045.5,299.6 L1047.1,300.5 L1048.8,302.5 L1050.4,304.9 L1052.1,306.7 L1053.8,306.8 L1055.4,306.6 L1057.1,305.9 L1058.7,307.5 L1060.4,308.1 L1062.0,307.8 L1063.7,309.0 L1065.3,309.1 L1067.0,308.0 L1068.8,308.3 L1070.5,306.9 L1072.3,308.6 L1074.0,306.9 L1075.8,306.8 L1076.0,298.6 L1076.3,307.4 L1077.5,305.8 L1079.3,305.5 L1081.1,305.8 L1082.8,302.8 L1084.6,305.2 L1086.4,305.1 L1088.2,302.9 L1088.4,290.1 L1088.7,303.9 L1089.9,303.8 L1091.7,304.3 L1092.3,308.0 L1093.0,289.4 L1094.8,294.0 L1096.7,296.8 L1098.6,288.9 L1100.4,282.0 L1102.9,291.9 L1105.0,287.1 L1107.0,283.3 L1109.1,277.0 L1110.7,280.7 L1112.4,284.7 L1114.0,288.1 L1115.7,288.2 L1117.3,287.7 L1119.0,287.1 L1119.2,277.4 L1119.5,287.4 L1120.6,288.6 L1122.3,287.9 L1123.9,287.7 L1125.6,290.1 L1127.2,289.0 L1128.9,288.1 L1130.7,288.9 L1132.4,287.2 L1134.2,287.4 L1134.4,279.7 L1134.7,288.5 L1136.0,287.4 L1137.8,286.7 L1139.5,287.0 L1141.3,288.1 L1143.8,279.5 L1146.0,283.0 L1147.0,276.0 L1149.8,285.0 L1150.4,296.6 L1151.0,280.0 L1153.0,271.9 L1155.0,281.6 L1156.9,291.4 L1158.6,286.6 L1160.4,282.0 L1160.6,269.9 L1160.9,283.2 L1162.1,278.4 L1163.4,291.4 L1165.7,278.5 L1168.0,270.0 L1168.6,261.5 L1169.2,288.8 L1170.0,280.0 L1172.5,268.0 L1174.5,273.7 L1176.4,281.0 L1178.1,279.0 L1179.7,280.0 L1181.4,278.3 L1183.1,277.9 L1184.8,277.6 L1186.4,275.0 L1188.1,274.5 L1189.7,275.7 L1191.3,276.8 L1193.0,277.5 L1194.6,278.4 L1196.3,278.1 L1198.1,276.9 L1199.8,276.4 L1201.5,275.5 L1203.3,275.4 L1205.0,274.5 L1206.6,275.9 L1208.2,277.0 L1209.9,276.7 L1211.5,278.4 L1213.1,278.1 L1214.8,278.5 L1216.4,279.1 L1218.0,278.4 L1220.0,279.0 L1221.9,279.9 L1223.8,279.4 L1225.8,279.7 L1227.1,283.6 L1228.7,280.8 L1230.3,276.7 L1232.0,272.9 L1233.6,269.3 L1235.3,270.6 L1237.1,271.6 L1238.8,272.3 L1240.5,271.5 L1242.3,272.6 L1244.0,271.9 L1245.6,270.9 L1247.2,271.1 L1248.9,271.0 L1250.5,270.8 L1252.1,270.3 L1253.8,268.8 L1255.4,269.5 L1257.0,268.0 L1258.6,269.0 L1260.2,268.4 L1261.9,267.7 L1263.5,267.2 L1265.1,268.6 L1266.8,268.6 L1268.4,267.0 L1270.0,266.7 L1271.7,266.8 L1273.3,267.0 L1275.0,265.0 L1275.2,270.4 L1275.5,263.4 L1276.7,266.8 L1278.4,264.9 L1280.0,265.8 L1281.7,265.4 L1283.0,273.2 L1285.6,281.0 L1286.9,249.8 L1290.0,247.2 L1291.5,259.0 L1292.0,255.0 L1293.6,252.9 L1293.8,246.3 L1294.1,253.3 L1295.2,252.2 L1296.9,252.7 L1298.5,253.1 L1300.1,252.0 L1301.7,252.2 L1303.3,252.9 L1305.0,251.7 L1306.6,251.2 L1308.2,252.2 L1309.5,272.6 L1312.2,267.2 L1314.0,267.7 L1315.7,267.8 L1317.5,269.0 L1319.2,270.0 L1321.0,268.3 L1322.7,269.2 L1324.5,271.2 L1325.9,278.1 L1327.6,277.9 L1329.3,275.4 L1331.0,274.7 L1332.7,273.6 L1332.9,263.2 L1333.2,275.1 L1334.4,276.5 L1334.6,267.4 L1334.9,278.0 L1336.1,275.8 L1337.8,274.0 L1339.5,274.0 L1341.2,272.9 L1342.9,272.6 L1344.6,270.3 L1346.3,270.6 L1348.0,271.0 L1349.7,270.4 L1351.4,269.2 L1353.1,265.8 L1354.8,268.1 L1356.6,267.2 L1358.3,266.4 L1360.1,266.1 L1361.8,264.7 L1363.6,264.7 L1365.3,265.8 L1366.7,276.7 L1368.5,272.9 L1370.4,272.4 L1372.2,269.9 L1373.8,269.5 L1375.5,270.2 L1377.1,269.1 L1378.7,269.6 L1380.3,267.9 L1382.0,267.4 L1383.6,267.3 L1385.2,268.1 L1386.9,268.2 L1388.5,268.5 L1390.1,266.6 L1391.8,262.6 L1393.4,260.3 L1395.1,258.3 L1396.7,254.9 L1399.4,254.9 L1400.8,271.2 L1402.5,270.4 L1404.2,267.8 L1405.9,265.6 L1407.6,263.1 L1409.3,263.8 L1411.1,263.8 L1412.8,262.6 L1414.6,262.6 L1416.3,262.8 L1418.0,263.1 L1419.8,262.5 L1421.5,262.3 L1423.3,261.8 L1425.0,261.7 L1426.8,261.7 L1428.7,261.4 L1430.5,261.8 L1432.3,261.4 L1434.2,262.0 L1436.0,261.0 L1437.6,261.9 L1439.3,260.5 L1440.9,260.1 L1442.6,260.6 L1444.2,259.8 L1445.9,259.4 L1447.5,260.9 L1449.2,260.6 L1450.8,261.2 L1452.5,261.4 L1454.1,260.8 L1455.8,262.0 L1457.4,261.2 L1459.1,260.9 L1460.7,260.8 L1462.4,260.1 L1464.0,261.0 L1465.7,260.8 L1467.3,261.3 L1469.0,260.5 L1470.6,261.0 L1472.9,265.6 L1474.5,264.7 L1476.1,265.2 L1477.7,265.3 L1479.3,264.2 L1481.0,262.2 L1482.6,262.6 L1482.8,272.2 L1483.1,260.8 L1484.2,262.1 L1485.8,262.0 L1487.4,261.8 L1489.0,260.8 L1490.6,261.0 L1492.2,260.6 L1493.8,259.4 L1495.4,260.1 L1497.0,259.2 L1498.7,259.7 L1500.3,258.9 L1501.9,259.3 L1503.5,257.6 L1505.1,257.6 L1506.9,256.1 L1508.8,254.0 L1510.6,252.7 L1512.5,252.3 L1512.7,240.1 L1513.0,253.1 L1514.3,250.7 L1516.6,261.0 L1518.2,260.2 L1519.8,260.1 L1521.5,258.8 L1523.1,258.0 L1524.7,258.1 L1526.3,256.7 L1527.9,256.6 L1529.6,256.8 L1531.2,255.7 L1532.8,255.3 L1535.1,262.7 L1537.4,269.1 L1539.2,267.1 L1541.1,265.7 L1542.9,263.8 L1544.8,261.6 L1546.6,259.9 L1548.3,259.3 L1549.9,258.6 L1551.6,257.7 L1553.3,256.3 L1555.0,256.1 L1556.6,254.2 L1558.3,253.0 L1560.0,252.4 L1561.7,251.5 L1563.3,250.3 L1565.0,249.5 L1567.3,267.9 L1569.0,267.6 L1570.6,266.6 L1572.3,265.4 L1574.0,263.8 L1575.7,262.1 L1577.3,261.8 L1579.0,260.6 L1580.7,258.6 L1582.4,258.4 L1584.0,257.3 L1585.7,256.4 L1587.0,244.0 L1588.5,258.0 L1590.2,257.8 L1591.8,257.5 L1593.5,256.6 L1595.2,255.5 L1596.8,255.1 L1598.5,254.8 L1600.1,254.4 L1601.8,254.1 L1604.1,256.9 L1604.3,265.8 L1604.6,255.7 L1606.4,261.0 L1608.1,259.0 L1609.8,257.8 L1611.4,256.0 L1613.1,255.1 L1614.8,254.6 L1616.5,252.5 L1618.2,251.2 L1619.9,249.9 L1621.5,249.4 L1623.2,247.5 L1624.9,247.2 L1627.2,252.4 L1629.5,259.9 L1631.2,258.9 L1632.9,258.6 L1634.6,257.3 L1636.2,256.8 L1637.9,255.6 L1639.6,255.5 L1641.3,255.1 L1643.0,254.9 L1644.7,253.5 L1646.4,253.9 L1648.1,253.0 L1649.7,252.4 L1651.4,251.5 L1653.1,250.3 L1654.8,249.5 L1656.4,249.9 L1658.1,250.5 L1659.7,248.9 L1661.4,249.5 L1663.0,249.0 L1664.7,248.9 L1666.3,249.5 L1667.5,264.5 L1669.2,263.2 L1670.8,262.5 L1672.5,261.9 L1674.1,259.9 L1675.8,259.7 L1677.4,258.4 L1679.0,257.5 L1680.7,256.5 L1682.4,255.4 L1684.0,254.4 L1685.7,252.9 L1687.3,252.5 L1689.0,249.2 L1690.6,248.2 L1692.2,248.5 L1693.9,247.2 L1696.2,253.3 L1698.5,258.7 L1700.2,257.1 L1702.0,256.3 L1703.7,254.9 L1705.5,254.1 L1707.2,253.7 L1708.9,251.8 L1710.7,250.5 L1712.4,250.7 L1714.0,250.1 L1715.7,250.5 L1717.3,251.0 L1719.0,250.7 L1720.6,251.2 L1722.3,250.7 L1723.9,250.2 L1725.5,250.2 L1727.2,250.3 L1728.8,250.6 L1730.5,250.5 L1732.1,249.8 L1733.8,250.1 L1735.4,250.3 L1737.0,250.5 L1738.7,250.8 L1740.3,250.3 L1742.0,250.3 L1743.6,251.0 L1745.3,250.4 L1746.9,250.1 L1748.5,250.3 L1750.2,250.8 L1751.8,250.6 L1753.5,250.1 L1755.1,250.5 L1756.8,249.9 L1758.4,249.5 L1760.7,264.5 L1762.4,264.0 L1764.2,262.3 L1765.9,259.6 L1767.6,259.4 L1769.3,258.5 L1771.1,256.5 L1772.8,255.8 L1774.5,255.4 L1776.2,253.1 L1778.0,252.1 L1779.7,250.6 L1781.4,249.5 L1783.2,248.0 L1785.1,248.5 L1786.9,248.2 L1788.8,247.7 L1790.6,248.4 L1792.3,254.0 L1794.1,261.0 L1795.8,260.0 L1797.5,259.5 L1799.2,258.7 L1800.8,258.7 L1802.5,257.9 L1804.2,258.2 L1805.9,257.7 L1807.6,256.6 L1809.3,257.0 L1810.9,256.5 L1812.6,255.7 L1814.3,254.3 L1816.0,254.1 L1817.1,244.9" fill="none" stroke="#0000FF" stroke-width="3.2" stroke-linejoin="round" stroke-linecap="butt" shape-rendering="crispEdges"/>
<path d="M216.8,1390.0 L217.3,1250.0 L218.0,1120.0 L219.5,1040.0 L221.4,1000.0 L226.9,968.8 L231.8,947.0 L238.8,926.2 L245.7,907.4 L251.6,893.5 L258.6,877.7 L266.3,860.0 L268.6,852.8 L270.8,847.7 L272.8,841.7 L274.7,839.0 L276.7,831.4 L278.4,828.8 L280.2,827.2 L281.9,824.7 L283.6,821.3 L285.4,818.5 L285.6,828.5 L285.9,817.9 L287.1,815.8 L289.4,811.2 L291.6,805.4 L293.9,800.0 L296.1,793.5 L298.3,785.3 L300.1,786.6 L300.3,778.1 L300.6,787.9 L302.0,787.5 L304.2,782.7 L306.5,778.6 L308.2,775.4 L310.0,772.1 L311.7,769.7 L313.4,765.1 L315.2,761.6 L316.9,758.6 L319.8,750.0 L320.4,740.4 L322.9,744.1 L324.6,741.2 L326.2,739.6 L327.9,736.7 L329.5,734.8 L331.1,732.7 L332.7,731.6 L334.3,728.7 L335.9,727.4 L337.8,723.4 L339.6,720.0 L341.5,716.3 L343.3,715.0 L345.8,708.8 L347.1,690.9 L349.5,708.8 L351.2,705.5 L352.8,702.8 L354.5,699.5 L356.4,698.4 L358.2,698.6 L360.0,695.6 L361.9,694.6 L363.8,691.5 L365.6,689.6 L368.1,676.0 L370.2,674.5 L372.2,673.2 L374.3,673.5 L375.5,652.0 L377.5,662.0 L379.4,659.0 L381.4,656.6 L383.5,653.2 L385.7,652.9 L387.8,652.3 L389.8,651.2 L391.9,650.4 L393.6,648.3 L395.2,646.5 L396.9,646.7 L399.3,641.7 L402.4,631.2 L405.5,626.9 L407.7,626.9 L409.9,629.3 L410.5,608.9 L412.4,609.9 L414.2,612.6 L416.7,621.9 L418.5,615.7 L420.4,614.0 L422.2,613.2 L424.1,612.6 L426.0,611.4 L427.8,610.5 L429.7,608.8 L431.5,606.4 L433.2,603.1 L434.8,602.2 L436.5,600.9 L439.6,594.7 L441.3,592.8 L443.0,591.0 L444.7,588.4 L446.4,587.9 L448.1,580.0 L449.5,565.4 L451.6,568.1 L453.6,570.8 L456.3,576.3 L458.1,576.6 L459.9,574.5 L461.7,572.2 L463.4,570.0 L465.1,569.9 L466.9,570.4 L467.1,563.5 L467.4,571.8 L468.6,568.8 L470.5,567.2 L472.4,566.9 L474.3,567.5 L476.2,566.7 L478.1,565.4 L479.5,543.0 L481.2,547.9 L482.9,553.4 L484.6,553.3 L486.4,550.8 L488.1,547.1 L489.9,541.8 L491.6,538.0 L493.4,535.0 L495.1,530.0 L496.8,555.2 L498.5,537.9 L500.2,536.6 L500.4,527.4 L500.7,536.7 L502.0,537.2 L503.7,535.1 L505.5,533.2 L507.2,532.4 L509.0,531.7 L510.7,530.9 L512.4,525.4 L514.1,522.8 L515.9,519.7 L517.6,517.1 L519.4,521.5 L521.1,528.3 L522.8,528.1 L524.5,526.7 L526.3,526.3 L528.0,525.3 L529.7,524.0 L530.6,503.2 L533.2,515.3 L535.2,512.2 L537.1,510.3 L539.0,508.0 L541.0,507.5 L543.0,504.9 L545.1,503.3 L547.1,503.2 L548.8,501.9 L550.5,501.3 L550.8,493.8 L550.9,503.6 L551.1,501.3 L552.3,498.5 L554.0,498.0 L555.7,497.3 L557.5,495.6 L559.2,496.1 L559.4,484.2 L559.6,504.9 L559.8,496.1 L561.0,494.4 L562.7,491.9 L564.4,492.6 L566.1,493.4 L567.9,491.7 L569.6,491.9 L571.3,491.9 L573.0,489.2 L574.8,487.7 L576.5,485.9 L578.4,484.9 L580.3,483.7 L582.2,484.0 L584.1,482.4 L586.0,482.4 L588.7,456.4 L590.0,476.2 L591.7,474.5 L593.4,474.6 L595.1,473.6 L596.8,473.3 L598.5,472.2 L600.2,471.7 L601.9,473.4 L603.6,469.4 L605.6,470.5 L607.5,468.3 L609.5,466.0 L610.4,455.8 L611.1,468.0 L612.8,466.5 L614.4,465.6 L616.1,462.3 L617.7,461.3 L619.4,459.4 L621.0,458.5 L622.7,455.8 L624.4,455.3 L626.0,454.7 L627.7,454.0 L629.4,452.0 L631.0,451.6 L632.7,451.2 L634.4,449.7 L636.0,450.5 L637.7,449.0 L639.6,449.3 L641.5,448.1 L643.4,447.3 L645.3,447.4 L645.5,436.0 L645.8,447.4 L647.2,447.6 L649.2,445.7 L651.3,444.2 L653.3,440.0 L654.0,432.6 L654.6,465.3 L655.5,438.0 L658.1,438.0 L659.8,437.2 L660.0,443.2 L660.3,436.5 L661.5,436.9 L663.2,436.0 L663.4,424.1 L663.7,436.1 L664.9,435.0 L666.6,436.5 L668.3,435.1 L670.0,435.7 L671.7,434.0 L673.4,434.7 L675.1,434.9 L676.8,435.1 L678.5,435.3 L679.9,423.1 L681.5,424.0 L683.1,423.7 L684.8,424.1 L686.4,423.7 L688.0,424.4 L689.6,423.7 L689.8,411.1 L690.1,423.8 L691.3,422.0 L692.9,423.5 L694.6,424.0 L694.8,430.4 L695.1,423.6 L696.2,421.7 L697.9,421.1 L699.5,422.3 L701.2,420.6 L702.9,421.2 L704.5,422.2 L704.7,417.5 L705.0,423.4 L706.2,422.1 L707.9,423.0 L709.5,423.4 L711.2,421.7 L712.8,420.6 L714.5,417.2 L716.1,416.1 L717.8,414.4 L719.4,410.8 L721.3,413.6 L723.1,412.3 L725.0,413.1 L726.8,413.4 L728.6,415.1 L730.4,417.1 L731.5,410.0 L731.8,392.6 L732.3,423.0 L733.0,410.0 L735.1,408.6 L737.3,407.6 L738.9,407.0 L740.5,407.0 L742.2,406.3 L743.8,404.2 L745.4,404.9 L747.1,403.3 L748.8,403.5 L750.5,404.3 L752.2,402.9 L754.0,403.5 L755.7,402.6 L757.4,402.6 L759.1,402.2 L760.8,400.1 L762.5,398.0 L764.2,395.8 L765.9,395.3 L768.0,400.9 L770.0,404.9 L772.7,385.8 L774.8,389.7 L776.8,392.6 L778.4,393.1 L780.1,391.5 L781.7,392.2 L783.3,393.3 L785.0,392.5 L786.6,391.9 L788.2,391.1 L789.8,392.0 L791.5,389.8 L793.1,389.9 L794.8,389.2 L796.5,390.2 L798.2,390.1 L799.9,387.8 L801.6,386.2 L803.3,387.6 L805.0,386.4 L806.7,385.8 L808.5,386.6 L810.3,384.5 L812.2,384.0 L814.0,383.3 L815.8,384.4 L817.6,383.1 L819.7,380.6 L821.9,377.4 L824.0,375.0 L824.5,362.6 L825.2,380.0 L827.2,381.7 L828.9,380.3 L830.7,378.1 L832.4,377.8 L834.2,377.1 L835.9,377.7 L837.7,374.3 L839.4,374.9 L841.1,374.1 L842.8,374.5 L844.5,374.4 L846.2,375.4 L848.0,375.2 L849.7,373.6 L851.4,372.3 L853.1,373.5 L855.8,361.3 L857.6,365.3 L857.8,373.6 L858.1,363.7 L859.4,370.6 L861.2,376.3 L862.8,373.0 L864.5,370.0 L866.1,365.8 L867.8,362.7 L869.4,359.9 L871.3,358.0 L873.1,360.0 L875.0,358.6 L876.2,354.0 L877.9,354.7 L878.1,340.8 L878.4,356.3 L879.5,354.7 L881.2,354.1 L882.8,352.8 L884.5,352.9 L886.1,352.7 L887.7,350.9 L889.3,353.0 L890.9,352.0 L892.5,352.5 L894.2,351.1 L895.8,353.0 L897.4,352.8 L899.0,354.0 L900.6,353.0 L902.2,352.7 L904.2,350.0 L904.7,346.6 L905.9,368.9 L908.4,363.9 L910.0,363.7 L911.6,363.5 L913.2,364.6 L914.8,362.7 L916.4,362.4 L918.0,362.1 L918.2,357.6 L918.5,362.3 L919.6,361.4 L921.4,361.7 L923.1,360.9 L924.9,360.2 L926.7,359.7 L928.5,360.7 L930.2,358.8 L932.0,358.9 L933.9,356.3 L935.7,357.6 L937.5,354.1 L939.4,355.2 L941.2,352.5 L942.9,354.0 L944.7,351.7 L946.5,353.1 L946.7,357.8 L947.0,351.5 L948.3,354.0 L950.0,354.2 L951.8,354.0 L953.4,352.1 L955.1,350.7 L956.7,349.0 L958.6,346.8 L960.5,344.9 L962.3,345.1 L964.2,342.8 L965.8,342.6 L967.5,343.8 L969.1,344.1 L969.8,350.0 L970.4,358.9 L971.0,350.0 L972.9,348.5 L974.7,347.7 L976.6,346.6 L979.0,336.6 L980.6,334.6 L982.2,332.0 L982.7,324.3 L983.3,345.0 L984.0,338.0 L986.5,337.9 L988.4,338.2 L988.6,327.3 L988.8,346.2 L989.0,338.2 L990.2,338.3 L992.0,336.9 L993.9,336.6 L995.8,336.9 L997.6,336.4 L999.5,335.5 L1001.3,335.8 L1001.5,340.2 L1001.8,334.0 L1003.1,336.1 L1005.0,336.5 L1006.6,337.2 L1008.2,335.5 L1009.8,334.3 L1011.4,333.4 L1013.0,332.9 L1014.6,330.6 L1016.2,332.7 L1018.6,338.9 L1020.5,336.9 L1022.3,336.3 L1024.2,334.5 L1026.1,333.4 L1027.9,335.1 L1029.8,334.0 L1031.7,334.7 L1033.5,334.5 L1035.3,335.7 L1037.2,335.2 L1039.3,333.8 L1041.3,330.6 L1043.4,327.8 L1045.2,332.3 L1047.1,334.0 L1048.8,334.2 L1050.5,334.0 L1052.2,333.1 L1052.4,337.5 L1052.7,331.1 L1053.9,332.7 L1055.7,331.3 L1055.9,338.3 L1056.2,330.5 L1057.4,330.7 L1059.1,329.8 L1060.8,330.3 L1062.7,330.6 L1064.5,330.2 L1066.3,329.3 L1068.2,328.2 L1070.1,329.2 L1070.3,320.4 L1070.6,329.5 L1071.9,329.0 L1073.6,330.1 L1075.2,332.9 L1076.9,335.2 L1078.8,334.4 L1080.6,334.7 L1082.5,332.9 L1084.3,331.5 L1086.4,332.5 L1086.6,341.6 L1086.9,331.0 L1088.4,331.8 L1090.5,332.7 L1091.7,315.4 L1093.4,316.5 L1095.0,318.9 L1096.7,321.6 L1098.5,318.4 L1100.4,319.5 L1102.2,318.9 L1104.1,317.9 L1106.0,317.7 L1106.2,306.5 L1106.4,321.2 L1106.6,317.7 L1107.8,317.6 L1109.7,316.5 L1111.5,316.1 L1113.4,316.0 L1114.0,314.2 L1114.6,325.3 L1115.3,318.0 L1117.2,317.9 L1119.0,319.3 L1120.8,319.3 L1122.7,317.9 L1124.8,316.8 L1126.8,316.4 L1128.9,315.4 L1130.8,317.8 L1132.6,320.2 L1134.5,324.3 L1136.3,325.3 L1138.0,323.2 L1139.8,319.9 L1141.5,319.0 L1143.3,318.3 L1145.0,315.4 L1146.5,314.8 L1148.2,314.3 L1150.0,313.3 L1151.7,311.3 L1153.4,312.8 L1155.2,309.7 L1156.9,310.9 L1159.5,321.3 L1161.1,322.2 L1162.8,320.4 L1164.4,320.4 L1164.6,328.8 L1164.9,318.9 L1166.0,321.0 L1167.6,320.0 L1169.2,320.2 L1170.9,318.9 L1172.5,320.0 L1174.2,319.9 L1176.0,321.3 L1177.7,320.2 L1179.4,322.4 L1181.2,321.3 L1182.9,320.0 L1184.5,317.2 L1186.2,313.3 L1187.8,309.8 L1189.4,307.0 L1191.3,307.3 L1193.3,307.0 L1195.9,327.8 L1197.8,325.9 L1199.8,321.3 L1201.4,321.0 L1203.0,320.8 L1204.7,320.3 L1206.3,321.8 L1207.9,321.3 L1209.5,323.5 L1211.2,324.3 L1212.8,323.9 L1214.8,322.1 L1216.7,318.0 L1218.6,313.7 L1220.6,309.6 L1222.9,313.8 L1225.2,318.0 L1225.8,333.0 L1226.5,318.0 L1228.4,301.8 L1229.0,312.0 L1231.3,314.3 L1233.6,316.1 L1235.3,313.8 L1237.1,312.8 L1238.8,309.9 L1240.5,307.7 L1242.3,304.1 L1244.0,304.4 L1246.0,301.6 L1247.9,300.9 L1249.8,300.5 L1251.8,300.5 L1253.5,304.3 L1255.3,309.3 L1257.0,313.5 L1258.6,311.8 L1260.2,312.4 L1261.9,308.8 L1263.5,308.3 L1265.1,307.5 L1266.8,308.1 L1268.4,306.6 L1270.0,306.4 L1271.6,305.6 L1273.2,306.1 L1274.9,306.2 L1276.5,304.4 L1279.1,300.5 L1280.9,301.0 L1282.7,300.6 L1284.5,302.3 L1286.4,302.7 L1286.6,311.2 L1286.9,301.9 L1288.2,301.8 L1290.0,301.8 L1291.8,301.2 L1293.5,301.7 L1295.2,303.6 L1296.9,301.8 L1298.6,301.9 L1300.3,299.1 L1302.0,298.8 L1303.7,299.4 L1305.4,298.6 L1307.1,298.7 L1308.8,298.7 L1310.5,298.8 L1312.2,298.5 L1313.8,297.5 L1314.0,290.2 L1314.2,300.2 L1314.4,297.5 L1315.4,298.7 L1317.0,298.3 L1318.6,298.2 L1320.2,300.2 L1321.9,298.2 L1323.5,295.9 L1325.1,297.8 L1326.7,297.4 L1328.3,296.8 L1329.9,297.1 L1332.0,299.8 L1334.0,302.6 L1335.8,300.7 L1336.0,305.4 L1336.3,299.2 L1337.5,302.7 L1339.3,302.2 L1341.0,301.4 L1342.8,301.6 L1344.5,299.2 L1346.3,299.8 L1348.0,299.2 L1349.7,300.3 L1351.4,301.0 L1353.1,300.8 L1354.8,301.4 L1356.5,301.3 L1358.2,301.3 L1359.9,302.4 L1361.6,301.7 L1363.3,302.5 L1365.0,302.3 L1366.7,302.6 L1368.4,302.9 L1368.6,306.4 L1368.9,301.0 L1370.1,302.8 L1370.3,297.3 L1370.6,303.4 L1371.8,303.9 L1373.5,303.9 L1375.2,304.3 L1376.9,302.3 L1378.6,301.7 L1380.3,300.7 L1382.0,299.3 L1383.7,297.6 L1383.9,291.2 L1384.2,298.4 L1385.4,297.7 L1387.1,298.5 L1389.2,299.5 L1391.2,303.9 L1392.8,302.2 L1393.0,292.4 L1393.3,303.7 L1394.5,303.2 L1394.7,296.3 L1395.0,304.7 L1396.1,303.8 L1397.8,302.2 L1399.4,301.1 L1401.0,299.9 L1402.7,300.1 L1404.3,300.5 L1406.0,300.0 L1407.6,298.5 L1409.2,298.3 L1410.8,298.2 L1412.5,297.9 L1414.1,298.0 L1415.7,297.1 L1416.5,290.0 L1417.1,283.5 L1417.7,305.3 L1418.3,296.0 L1421.2,294.4 L1423.1,295.9 L1425.0,295.8 L1426.8,296.3 L1428.7,296.0 L1430.5,295.7 L1432.3,296.1 L1434.2,296.5 L1436.0,296.7 L1437.7,297.4 L1439.3,297.8 L1441.0,298.7 L1442.6,299.3 L1444.3,300.3 L1445.9,301.4 L1446.1,294.2 L1446.3,304.2 L1446.5,301.4 L1447.6,302.5 L1449.5,300.7 L1451.5,300.0 L1452.2,280.6 L1452.8,307.0 L1453.5,293.0 L1455.2,290.4 L1456.8,289.8 L1458.5,288.1 L1460.1,289.1 L1461.8,289.1 L1463.5,290.2 L1465.2,289.8 L1466.8,290.5 L1468.5,290.6 L1470.2,290.8 L1471.9,291.3 L1473.5,291.7 L1475.2,291.0 L1477.5,297.9 L1479.1,298.3 L1480.8,297.0 L1482.4,297.0 L1484.1,296.1 L1485.7,296.6 L1487.4,295.3 L1489.0,293.7 L1490.6,293.6 L1492.3,292.9 L1493.9,293.1 L1495.6,293.0 L1497.2,291.4 L1498.9,291.9 L1500.5,291.0 L1502.2,290.2 L1503.8,289.9 L1505.5,290.5 L1507.2,290.3 L1508.9,289.3 L1510.5,288.8 L1512.2,288.3 L1513.9,288.0 L1515.6,287.1 L1517.2,286.2 L1518.9,286.3 L1520.6,285.8 L1522.4,287.2 L1524.1,288.3 L1525.8,289.8 L1527.6,290.7 L1529.3,290.4 L1531.1,291.7 L1532.8,293.3 L1534.5,293.0 L1536.1,292.8 L1537.8,292.1 L1539.5,291.7 L1541.2,290.9 L1542.8,290.0 L1544.5,290.7 L1546.2,290.1 L1547.9,289.2 L1549.5,287.5 L1551.2,287.5 L1552.8,287.2 L1554.4,287.4 L1556.1,288.1 L1557.7,287.4 L1559.3,288.1 L1560.9,287.6 L1562.6,288.0 L1564.2,287.4 L1565.8,286.6 L1567.4,286.7 L1569.1,287.8 L1570.7,287.7 L1572.3,287.3 L1573.9,287.7 L1575.6,287.2 L1577.2,287.7 L1578.8,287.5 L1580.4,288.5 L1582.1,288.9 L1583.7,289.9 L1585.4,289.3 L1587.0,289.9 L1588.7,290.9 L1590.3,291.0 L1592.3,290.0 L1592.6,281.7 L1593.2,292.0 L1596.0,288.0 L1597.7,288.3 L1599.3,287.7 L1601.0,288.5 L1602.7,289.0 L1604.3,288.4 L1606.0,287.5 L1607.7,287.4 L1609.3,287.4 L1611.0,287.5 L1613.3,295.6 L1614.9,295.4 L1615.1,285.5 L1615.4,296.7 L1616.5,294.8 L1618.2,294.1 L1619.8,294.2 L1621.4,293.0 L1623.0,293.5 L1624.6,293.7 L1626.3,292.3 L1627.9,291.5 L1629.5,291.0 L1631.2,290.6 L1633.0,290.4 L1634.7,290.8 L1636.4,290.8 L1638.1,290.2 L1639.8,289.9 L1641.6,289.9 L1643.3,289.7 L1645.0,288.9 L1646.8,289.8 L1648.5,288.8 L1650.2,288.6 L1651.9,295.0 L1653.6,301.3 L1655.2,300.6 L1656.8,299.8 L1658.5,299.4 L1660.1,298.4 L1661.7,298.2 L1663.3,298.8 L1665.0,297.0 L1666.6,297.3 L1668.2,295.5 L1669.8,294.3 L1671.4,294.7 L1673.1,293.9 L1674.7,293.7 L1676.3,293.0 L1677.9,292.2 L1679.6,291.8 L1681.2,291.3 L1682.8,291.5 L1684.4,290.3 L1686.1,289.2 L1687.7,288.6 L1689.3,288.6 L1690.9,291.5 L1692.5,292.5 L1694.2,294.1 L1695.8,297.4 L1697.4,299.0 L1699.0,297.9 L1700.7,297.0 L1702.3,296.6 L1703.9,295.1 L1705.6,296.6 L1707.2,294.9 L1708.8,293.5 L1710.5,292.8 L1712.1,291.7 L1713.7,291.2 L1715.4,291.5 L1717.0,289.8 L1718.7,290.7 L1720.5,291.8 L1722.2,292.6 L1723.9,294.4 L1725.5,293.0 L1727.1,292.6 L1728.7,292.7 L1730.3,291.3 L1732.0,289.8 L1733.6,289.2 L1735.2,288.6 L1736.8,288.5 L1738.4,289.6 L1740.0,287.5 L1742.3,301.3 L1744.2,296.8 L1746.0,290.0 L1747.6,282.3 L1749.2,273.7 L1749.2,301.0" fill="none" stroke="#008080" stroke-width="3.2" stroke-linejoin="round" stroke-linecap="butt" shape-rendering="crispEdges"/>
<path d="M216.8,1390.0 L217.8,1250.0 L218.5,1120.0 L220.5,1040.0 L223.9,1000.0 L228.8,973.8 L234.8,951.0 L240.7,934.2 L247.7,915.3 L255.6,897.5 L263.5,879.6 L270.1,860.0 L272.1,855.5 L274.0,850.6 L276.0,845.5 L277.7,843.8 L279.5,839.0 L281.2,835.8 L283.1,833.8 L283.2,841.1 L283.6,832.0 L284.9,830.5 L286.8,828.0 L288.6,825.4 L290.9,822.2 L293.1,815.8 L294.6,809.1 L296.5,806.9 L298.3,801.7 L300.0,800.6 L301.8,799.8 L303.5,798.0 L305.0,792.0 L306.9,791.5 L308.7,790.1 L310.5,787.0 L312.4,786.1 L313.9,778.6 L316.1,768.2 L318.4,760.8 L320.1,759.0 L321.9,757.8 L323.6,756.8 L325.3,756.1 L327.1,752.5 L328.8,753.4 L330.9,752.2 L331.1,748.1 L331.4,753.6 L333.0,750.0 L335.1,745.4 L337.2,741.6 L339.0,730.5 L342.1,725.5 L345.2,715.0 L347.7,718.1 L349.6,715.1 L351.4,713.7 L353.3,713.2 L355.3,711.3 L357.4,709.3 L359.4,708.8 L361.1,710.6 L362.7,711.4 L364.4,710.7 L365.0,701.4 L368.1,704.5 L368.7,681.0 L370.9,684.4 L373.1,684.7 L374.3,689.6 L376.1,680.6 L378.0,673.5 L379.9,673.2 L381.7,676.3 L383.6,676.0 L386.7,671.7 L388.8,672.3 L390.8,669.7 L392.9,668.0 L395.0,668.0 L395.2,679.2 L395.5,667.6 L397.0,668.6 L399.1,666.1 L400.6,660.0 L401.8,638.0 L404.3,645.4 L406.0,645.7 L407.7,643.7 L409.4,641.0 L411.1,640.5 L413.0,628.1 L414.6,630.0 L416.3,633.4 L417.9,633.1 L419.6,634.7 L421.2,633.5 L422.9,631.2 L424.8,631.6 L426.6,632.2 L428.5,630.6 L430.3,628.5 L432.2,627.5 L434.0,631.8 L435.7,629.6 L437.3,627.8 L439.0,627.5 L439.6,619.4 L440.8,615.7 L442.7,590.3 L443.9,603.3 L445.8,601.0 L447.6,601.4 L449.5,598.4 L451.2,597.9 L453.0,596.3 L454.8,595.0 L456.5,594.3 L456.7,601.8 L457.0,593.9 L458.2,593.0 L460.0,592.0 L461.7,590.4 L463.3,590.1 L463.5,583.5 L463.8,592.0 L465.0,588.6 L466.7,589.3 L466.9,596.0 L467.2,587.9 L468.3,589.3 L470.0,588.0 L471.9,587.2 L473.8,587.9 L475.7,584.8 L477.6,585.9 L477.8,573.2 L478.1,587.2 L479.5,584.2 L481.6,574.7 L483.7,563.2 L485.5,562.8 L487.3,560.0 L489.9,555.2 L491.6,555.2 L493.4,551.1 L495.1,548.3 L496.8,547.4 L498.6,543.7 L500.3,542.9 L502.0,543.0 L504.1,537.4 L506.3,536.1 L508.5,539.3 L510.7,544.8 L512.4,544.3 L512.6,538.2 L512.8,547.8 L513.0,544.3 L514.1,544.5 L515.9,544.0 L517.6,545.1 L519.3,547.4 L521.3,546.8 L523.4,548.5 L525.4,551.7 L527.5,548.1 L529.7,548.3 L531.5,557.8 L532.3,537.0 L534.9,524.0 L537.5,513.6 L539.5,510.8 L541.4,510.5 L543.3,510.2 L545.3,511.0 L546.9,510.9 L548.5,512.1 L548.7,502.0 L548.9,519.9 L549.1,512.1 L550.1,510.7 L551.8,509.0 L553.4,508.3 L555.0,508.1 L556.6,507.5 L558.6,508.9 L558.8,518.2 L559.1,507.4 L560.7,511.4 L562.7,513.6 L564.4,512.1 L566.1,511.4 L567.9,510.8 L569.6,509.3 L571.3,506.7 L573.0,506.4 L574.8,502.8 L576.5,499.8 L578.3,498.6 L580.0,498.0 L581.7,497.5 L583.5,496.9 L585.2,498.0 L587.6,496.2 L590.0,496.6 L591.8,492.5 L593.6,490.7 L595.4,488.4 L597.2,487.7 L599.0,484.8 L600.7,483.8 L602.5,484.4 L604.3,482.0 L605.0,470.7 L605.7,489.8 L607.5,487.1 L609.2,484.3 L611.0,482.0 L611.2,473.7 L611.4,487.5 L611.6,482.0 L612.7,476.3 L614.5,474.8 L616.1,475.4 L617.8,476.8 L619.4,476.6 L621.1,477.0 L622.7,476.2 L624.4,475.4 L626.0,473.9 L627.7,471.6 L629.4,471.6 L631.0,470.5 L632.7,469.6 L634.4,468.4 L634.6,463.1 L634.9,469.5 L636.0,468.2 L637.7,468.0 L639.6,466.4 L641.5,467.1 L641.7,454.0 L641.9,475.6 L642.1,467.1 L643.4,467.4 L645.3,466.7 L647.2,465.3 L648.0,452.0 L648.6,447.6 L649.3,458.0 L651.3,456.5 L653.4,454.7 L655.4,453.0 L657.2,451.1 L657.4,454.6 L657.7,449.3 L659.0,453.0 L660.8,453.1 L662.7,454.9 L664.5,454.2 L664.7,445.9 L665.0,454.6 L666.3,457.1 L668.1,458.2 L669.9,458.3 L671.8,459.7 L673.6,461.5 L675.4,461.8 L677.2,462.6 L679.9,449.0 L681.7,446.7 L683.5,446.3 L685.3,445.4 L687.2,445.0 L689.0,441.8 L690.8,440.8 L692.5,438.4 L694.2,440.8 L695.9,440.1 L697.6,438.0 L699.3,438.2 L701.0,437.0 L701.7,429.9 L702.4,452.0 L703.0,437.0 L704.7,437.8 L706.4,436.7 L706.6,423.5 L706.9,438.1 L708.1,437.2 L709.8,435.3 L711.5,440.0 L711.7,451.1 L712.0,438.8 L713.2,442.0 L714.9,443.9 L716.6,444.9 L718.7,430.3 L720.7,413.5 L722.0,425.0 L725.0,428.0 L726.6,428.1 L728.3,425.7 L729.9,424.6 L731.6,424.8 L733.2,424.0 L735.1,424.7 L737.0,426.6 L738.9,427.0 L739.1,417.5 L739.3,432.7 L739.5,427.0 L740.8,428.0 L742.7,430.8 L744.3,426.9 L746.0,423.1 L747.6,420.0 L748.2,403.5 L748.9,434.9 L749.5,425.0 L751.4,421.9 L751.6,413.7 L751.9,422.8 L753.4,418.8 L755.3,415.8 L757.2,412.0 L757.7,407.6 L758.2,430.0 L758.8,412.0 L760.6,412.1 L762.3,411.5 L764.1,410.6 L765.9,410.3 L767.5,410.4 L769.2,410.4 L769.4,400.6 L769.6,417.4 L769.8,410.4 L770.8,410.4 L772.4,408.3 L774.0,408.8 L775.7,409.8 L777.3,406.5 L778.9,407.2 L780.6,407.6 L782.2,406.2 L783.9,406.2 L785.6,407.4 L787.3,408.2 L789.0,408.8 L790.7,412.2 L792.4,412.6 L794.1,411.9 L795.8,413.1 L797.5,408.5 L799.2,403.6 L801.0,401.8 L802.7,398.1 L804.4,398.6 L804.6,389.9 L804.9,399.5 L806.0,397.2 L807.7,396.3 L809.3,396.1 L811.0,396.3 L811.2,406.4 L811.5,396.0 L812.6,394.4 L814.3,395.9 L815.9,396.0 L817.6,395.3 L819.4,395.0 L821.2,393.0 L821.7,392.6 L822.3,405.0 L823.0,395.0 L824.7,396.0 L826.3,396.7 L828.0,396.8 L829.6,398.0 L831.3,398.1 L833.2,399.1 L835.1,397.0 L837.0,396.8 L838.9,394.3 L840.8,394.0 L842.5,390.3 L844.2,387.3 L845.9,384.3 L847.6,380.4 L849.3,382.3 L851.0,382.6 L852.7,381.8 L854.4,381.5 L856.1,382.2 L857.8,383.2 L859.5,381.6 L861.2,383.1 L862.8,381.5 L864.5,381.1 L866.1,380.3 L867.8,381.2 L869.4,380.4 L871.3,378.9 L873.1,380.0 L875.0,380.4 L877.4,381.2 L879.3,382.6 L881.1,383.6 L883.0,386.5 L884.9,387.4 L887.0,384.1 L889.0,380.2 L891.1,377.5 L894.2,372.0 L894.8,368.9 L895.4,389.9 L896.0,378.0 L897.7,377.2 L899.3,376.7 L901.0,375.0 L902.6,374.3 L904.3,373.5 L906.0,372.0 L907.6,371.5 L909.2,369.6 L910.9,368.9 L912.8,372.0 L913.4,382.5 L914.0,373.0 L915.9,371.3 L917.7,372.8 L917.9,365.9 L918.2,374.5 L919.6,375.0 L921.3,373.5 L923.0,373.2 L924.8,371.5 L926.5,372.0 L928.2,371.3 L930.1,373.4 L932.0,376.3 L933.7,375.7 L935.4,375.6 L937.1,377.8 L938.8,377.3 L940.5,376.9 L942.2,376.3 L943.9,375.5 L945.6,375.0 L946.8,355.2 L948.7,355.8 L950.5,358.3 L952.4,358.9 L954.3,358.9 L956.1,356.0 L958.0,354.3 L959.8,350.0 L960.4,341.6 L961.0,372.6 L961.6,362.0 L963.3,363.6 L964.9,363.5 L965.1,357.7 L965.3,366.6 L965.5,363.5 L966.6,363.9 L968.5,362.9 L970.3,362.3 L972.2,361.6 L974.1,359.0 L975.9,359.3 L977.8,358.9 L979.4,356.4 L981.1,355.9 L982.8,355.0 L984.4,355.0 L986.1,355.7 L987.7,355.2 L989.4,355.6 L991.2,356.9 L992.9,356.0 L993.1,363.2 L993.4,355.7 L994.7,355.1 L996.4,357.7 L998.5,359.8 L1000.5,362.1 L1002.6,362.7 L1004.5,363.2 L1006.3,362.4 L1008.1,359.7 L1010.0,358.8 L1013.1,352.0 L1013.7,342.7 L1014.3,361.2 L1014.9,361.2 L1016.6,359.6 L1016.8,354.5 L1017.1,359.9 L1018.2,357.9 L1019.9,355.1 L1021.6,353.3 L1023.3,353.5 L1025.0,354.6 L1026.7,353.5 L1028.4,352.0 L1030.1,350.5 L1031.8,350.2 L1033.5,350.1 L1035.4,352.0 L1036.0,358.8 L1036.6,352.0 L1038.5,351.0 L1040.3,351.7 L1042.2,355.1 L1043.8,353.4 L1045.5,353.1 L1047.1,353.6 L1048.8,350.7 L1050.4,351.5 L1052.1,351.6 L1053.7,351.6 L1055.4,351.5 L1055.6,361.6 L1055.9,350.8 L1057.0,351.3 L1058.7,350.1 L1060.3,348.7 L1062.0,348.9 L1063.6,347.5 L1063.8,336.4 L1064.1,349.4 L1065.2,345.4 L1066.9,343.9 L1069.4,347.6 L1071.1,348.4 L1072.9,347.1 L1074.6,346.4 L1076.4,344.9 L1078.1,343.9 L1078.7,338.0 L1079.3,325.3 L1079.9,345.0 L1081.8,332.7 L1083.5,332.6 L1085.3,332.8 L1087.0,334.0 L1088.8,334.0 L1090.5,335.2 L1092.2,335.6 L1094.0,335.5 L1095.7,337.1 L1097.5,336.8 L1099.2,336.5 L1100.8,336.2 L1102.5,336.5 L1104.1,336.7 L1105.8,335.6 L1107.4,334.8 L1109.1,335.3 L1110.7,333.8 L1112.4,334.1 L1114.0,332.7 L1115.8,332.6 L1117.5,333.6 L1119.3,333.6 L1121.1,332.5 L1122.9,331.6 L1124.6,328.9 L1124.8,321.5 L1125.1,330.8 L1126.4,330.3 L1128.3,330.4 L1130.1,334.1 L1132.0,335.8 L1133.9,337.5 L1135.7,337.8 L1137.6,338.9 L1139.4,338.0 L1141.3,337.3 L1143.2,338.6 L1145.0,336.5 L1146.0,339.0 L1148.2,340.5 L1148.4,347.2 L1148.7,340.4 L1150.4,340.8 L1152.1,341.9 L1152.3,337.0 L1152.5,345.1 L1152.7,341.9 L1153.9,341.1 L1155.6,338.0 L1157.3,337.9 L1159.1,336.8 L1160.8,335.0 L1162.5,334.8 L1164.3,334.3 L1166.0,334.3 L1167.6,333.9 L1169.2,332.1 L1170.9,332.6 L1172.5,333.9 L1174.1,334.0 L1175.8,333.9 L1177.4,333.9 L1179.0,334.3 L1180.6,335.5 L1182.2,335.8 L1183.9,335.5 L1185.5,336.0 L1187.1,336.5 L1188.8,336.0 L1190.4,336.6 L1192.0,338.2 L1193.6,340.6 L1195.2,342.0 L1196.9,343.2 L1198.5,343.4 L1200.1,340.4 L1201.8,336.5 L1203.4,335.4 L1205.0,333.0 L1206.8,331.4 L1208.6,329.3 L1210.5,328.0 L1212.3,327.5 L1214.1,326.5 L1216.7,336.9 L1218.7,336.0 L1220.6,334.3 L1222.2,334.3 L1223.9,332.1 L1225.5,332.2 L1227.1,332.2 L1228.8,330.2 L1230.4,330.0 L1231.0,344.7 L1231.6,330.0 L1233.7,327.7 L1235.7,327.8 L1237.8,326.0 L1238.4,343.0 L1239.0,326.0 L1240.1,318.7 L1241.7,317.4 L1243.3,316.9 L1245.0,315.3 L1246.6,313.5 L1248.6,313.0 L1250.5,311.9 L1252.5,311.0 L1253.1,310.9 L1253.7,322.0 L1254.3,312.0 L1256.3,313.5 L1258.2,315.5 L1260.2,318.8 L1262.2,318.7 L1263.8,318.9 L1265.5,316.5 L1267.1,313.9 L1268.7,312.6 L1270.4,312.4 L1270.6,319.6 L1270.9,310.8 L1272.0,310.0 L1272.6,308.3 L1273.2,327.0 L1273.8,312.0 L1275.8,315.3 L1277.8,316.1 L1279.4,314.6 L1281.1,315.2 L1282.7,315.0 L1284.4,314.7 L1286.0,314.5 L1287.7,313.8 L1289.3,312.0 L1290.9,312.7 L1292.6,311.0 L1293.2,327.1 L1293.8,311.0 L1296.2,308.5 L1298.6,306.7 L1300.3,306.6 L1302.0,307.1 L1303.7,308.0 L1305.4,307.3 L1307.1,305.1 L1308.8,306.4 L1310.5,305.8 L1312.2,306.0 L1313.9,306.1 L1315.6,306.3 L1317.3,307.6 L1319.0,306.7 L1321.0,311.4 L1323.1,317.5 L1324.9,315.0 L1326.8,313.7 L1328.6,314.8 L1330.3,314.7 L1331.9,313.7 L1333.6,314.9 L1335.3,313.6 L1336.9,313.6 L1338.6,313.7 L1340.3,312.0 L1341.9,311.4 L1343.6,312.1 L1345.5,311.7 L1347.4,313.2 L1349.3,315.1 L1351.2,317.2 L1353.1,317.5 L1354.9,319.2 L1356.7,321.4 L1358.5,321.8 L1360.4,322.4 L1362.2,324.8 L1364.0,323.0 L1365.7,323.7 L1367.4,321.4 L1369.1,320.3 L1370.8,317.5 L1372.6,322.4 L1374.4,324.3 L1376.2,327.1 L1378.2,322.5 L1380.3,321.6 L1382.0,319.9 L1383.7,321.0 L1385.4,320.5 L1387.1,318.3 L1388.8,317.5 L1390.5,315.7 L1392.2,315.4 L1393.9,314.8 L1396.0,319.3 L1398.0,324.4 L1399.9,324.6 L1401.8,323.1 L1403.8,322.4 L1405.7,321.0 L1407.6,320.3 L1409.3,320.1 L1411.1,319.8 L1412.8,319.1 L1414.6,318.2 L1416.3,317.7 L1418.0,316.9 L1419.8,316.1 L1421.5,315.4 L1423.3,315.1 L1425.0,314.8 L1426.6,314.9 L1428.2,316.3 L1429.8,316.4 L1431.4,316.7 L1433.0,317.7 L1434.6,317.8 L1436.2,318.3 L1437.8,318.3 L1439.4,319.7 L1441.0,320.1 L1442.6,319.2 L1444.2,319.4 L1445.8,319.9 L1447.4,320.8 L1449.0,321.0 L1450.6,321.5 L1452.2,322.0 L1453.8,322.2 L1455.5,322.2 L1457.1,321.8 L1458.8,320.3 L1460.4,321.0 L1462.1,321.0 L1463.7,320.5 L1465.3,318.7 L1467.0,319.5 L1468.6,319.5 L1470.3,318.5 L1471.9,318.5 L1473.6,318.4 L1475.2,317.7 L1476.8,317.1 L1478.5,317.1 L1480.1,316.3 L1481.8,317.1 L1483.4,316.2 L1485.1,315.2 L1486.7,315.1 L1488.3,316.2 L1489.9,314.2 L1491.5,315.0 L1493.1,314.5 L1494.8,315.4 L1496.4,315.5 L1498.0,314.9 L1499.6,314.9 L1501.2,315.3 L1502.8,315.1 L1504.0,291.0" fill="none" stroke="#FF00FF" stroke-width="3.2" stroke-linejoin="round" stroke-linecap="butt" shape-rendering="crispEdges"/>
<path d="M216.8,1390.0 L217.0,1290.0 L218.2,1140.0 L220.5,1045.0 L226.0,1022.0 L230.8,1000.0 L235.8,980.7 L241.7,962.9 L247.7,947.0 L253.6,931.2 L259.6,917.3 L265.5,904.4 L272.5,888.6 L279.4,877.7 L285.7,860.0 L287.7,856.7 L289.6,852.4 L291.6,849.2 L293.6,846.1 L295.5,842.0 L297.5,838.8 L299.8,835.2 L302.0,832.9 L303.9,827.5 L305.7,821.7 L306.5,815.0 L308.7,815.8 L310.9,820.2 L313.2,811.3 L315.0,806.2 L316.9,804.6 L318.8,805.7 L320.6,809.1 L321.3,799.4 L323.2,795.6 L325.1,793.8 L326.9,792.5 L328.8,790.5 L331.0,777.1 L333.2,777.6 L333.4,786.4 L333.7,777.0 L335.4,777.9 L337.4,773.8 L339.4,769.9 L341.4,765.3 L343.1,767.4 L343.3,775.2 L343.6,766.4 L344.9,767.6 L346.6,767.5 L348.1,754.1 L350.0,753.4 L351.9,752.8 L353.8,751.7 L355.7,750.0 L357.4,745.3 L359.0,740.6 L360.7,736.7 L362.8,736.6 L364.8,735.4 L366.9,733.6 L368.7,727.4 L370.6,726.9 L372.4,726.4 L374.3,723.1 L376.8,729.9 L378.0,713.8 L379.9,712.9 L381.7,711.5 L383.6,711.9 L386.7,713.8 L388.5,705.7 L390.2,705.4 L391.8,705.3 L393.5,705.7 L394.7,690.9 L396.9,691.3 L399.1,694.6 L401.1,690.6 L403.0,685.8 L405.0,684.0 L406.8,680.8 L408.7,679.0 L410.5,676.7 L412.4,673.0 L414.2,672.6 L416.0,671.1 L417.7,666.8 L417.9,661.6 L418.2,667.6 L419.5,666.3 L421.2,663.5 L423.0,664.0 L424.8,661.4 L426.6,660.3 L428.5,659.7 L430.3,660.0 L432.0,656.4 L433.6,654.1 L435.3,652.9 L437.1,651.8 L439.0,650.8 L440.9,647.2 L442.7,646.7 L444.8,646.7 L446.8,644.5 L448.9,644.2 L450.7,638.8 L452.4,637.1 L454.2,632.6 L456.0,631.1 L457.8,630.5 L459.6,630.1 L461.4,628.5 L463.2,626.3 L465.0,626.0 L466.7,625.2 L468.4,623.6 L470.1,623.3 L471.9,621.2 L473.6,619.8 L475.3,617.9 L477.1,617.1 L478.9,615.4 L479.1,608.0 L479.4,617.1 L480.7,612.6 L482.6,611.0 L484.4,609.9 L486.2,607.9 L488.0,606.0 L489.8,603.2 L491.6,603.0 L493.4,601.5 L495.1,600.2 L496.9,598.6 L498.7,595.5 L500.5,594.7 L502.2,592.7 L504.0,592.5 L505.8,591.6 L507.5,589.9 L509.2,588.7 L511.0,588.0 L512.8,585.6 L514.5,585.5 L516.3,584.8 L518.1,583.3 L519.8,582.3 L521.6,582.1 L523.3,580.2 L525.0,581.1 L526.7,577.7 L528.4,577.4 L530.2,577.2 L531.9,575.7 L533.6,574.8 L535.3,574.8 L535.5,564.1 L535.8,576.5 L537.0,573.0 L538.6,571.6 L540.2,571.1 L540.4,575.7 L540.7,570.2 L541.9,570.7 L543.5,571.3 L545.1,569.6 L546.7,567.1 L548.3,565.1 L550.0,564.1 L551.6,562.1 L553.2,563.2 L554.9,561.1 L556.6,561.9 L558.3,559.7 L558.5,564.4 L558.8,558.8 L559.9,558.9 L561.6,555.1 L563.3,554.5 L565.0,556.0 L566.6,555.8 L568.2,552.8 L569.8,552.0 L571.5,552.4 L573.1,550.9 L574.7,549.8 L576.3,548.4 L578.0,548.4 L579.6,546.2 L581.3,546.1 L583.0,544.5 L584.7,542.2 L586.3,542.3 L588.0,543.0 L590.0,540.2 L591.6,539.4 L593.3,538.3 L594.9,538.1 L596.6,533.9 L598.2,533.4 L600.1,532.7 L602.0,532.1 L603.9,530.9 L605.8,530.1 L607.7,530.7 L609.5,528.6 L611.2,528.0 L611.8,511.6 L612.5,537.5 L614.9,528.7 L617.2,522.5 L618.8,520.6 L620.4,521.2 L622.0,522.1 L623.6,521.0 L625.2,520.3 L626.9,518.8 L628.5,519.0 L630.1,519.0 L631.7,520.3 L633.3,520.0 L633.5,508.1 L633.8,521.6 L634.9,518.4 L636.5,516.0 L638.2,515.1 L639.8,514.0 L640.4,504.8 L641.0,514.0 L642.8,512.1 L644.5,511.6 L646.2,510.4 L648.0,510.5 L649.7,509.2 L651.4,506.9 L653.1,507.4 L654.9,507.7 L656.6,505.7 L658.3,504.3 L660.0,505.6 L661.8,504.5 L663.5,503.4 L665.3,501.0 L667.1,499.1 L668.9,499.1 L670.7,498.6 L672.5,497.0 L673.1,496.6 L673.7,509.0 L674.3,497.0 L676.0,493.1 L677.6,490.9 L679.3,488.8 L680.9,488.4 L682.6,485.7 L685.3,493.9 L687.0,494.3 L688.7,493.6 L690.3,492.9 L692.0,491.5 L693.7,490.7 L695.4,490.1 L697.0,489.8 L698.7,489.4 L698.9,480.6 L699.2,490.3 L700.4,489.0 L702.1,489.3 L703.7,490.0 L705.4,486.9 L707.1,487.1 L709.2,486.3 L711.2,485.6 L713.3,484.0 L713.9,472.1 L714.5,491.2 L716.2,489.7 L718.0,486.3 L719.8,484.2 L721.5,482.5 L723.2,481.6 L725.0,478.4 L726.7,477.4 L728.4,476.8 L730.1,477.0 L731.8,477.6 L733.5,476.5 L735.2,474.3 L736.9,473.3 L738.6,474.4 L740.7,470.1 L742.7,469.2 L744.8,470.0 L745.4,458.0 L746.0,484.0 L746.6,472.0 L749.5,473.0 L751.1,469.0 L752.7,467.6 L754.3,464.6 L755.9,461.6 L757.5,458.3 L759.1,455.3 L760.8,457.2 L762.5,459.4 L764.2,463.8 L765.9,463.5 L767.5,462.7 L769.2,463.2 L770.8,462.6 L772.4,462.3 L774.0,463.0 L775.7,462.0 L777.3,461.0 L778.9,459.9 L780.6,460.6 L782.2,459.4 L783.9,459.8 L785.5,459.5 L787.2,457.7 L788.9,457.6 L790.5,458.9 L792.2,457.8 L793.9,457.2 L795.5,456.8 L797.2,456.7 L798.6,449.8 L799.5,457.0 L801.3,456.7 L803.1,454.2 L804.9,454.3 L806.8,453.4 L808.6,452.1 L810.4,452.4 L812.2,452.6 L814.0,451.9 L815.8,450.9 L817.7,450.0 L819.5,449.9 L821.3,447.3 L823.1,448.5 L824.9,447.7 L826.7,447.7 L828.5,447.1 L830.4,446.6 L832.2,444.1 L834.0,444.4 L836.1,441.8 L838.2,441.5 L840.3,440.0 L840.8,437.6 L841.3,452.0 L842.0,440.0 L843.7,440.1 L845.3,438.1 L847.0,436.7 L848.6,435.6 L850.3,436.2 L852.1,438.4 L854.0,440.1 L855.8,443.0 L857.6,442.5 L859.4,443.2 L861.2,441.8 L863.1,440.1 L864.9,439.6 L866.7,438.9 L868.4,437.9 L870.0,438.9 L871.7,438.9 L873.3,437.1 L875.0,437.6 L876.8,437.6 L878.7,436.2 L880.5,436.3 L882.4,433.2 L884.2,434.2 L887.3,433.3 L889.0,431.7 L890.8,432.2 L892.5,430.3 L894.3,431.5 L896.0,430.8 L897.6,429.9 L899.2,427.9 L900.8,428.1 L902.4,427.0 L904.0,427.3 L905.6,427.1 L907.2,425.8 L909.0,420.0 L909.6,407.3 L910.3,428.3 L912.1,428.3 L913.8,428.5 L915.4,428.1 L917.0,426.1 L918.7,425.0 L920.4,424.2 L922.0,424.6 L923.7,421.4 L925.3,422.2 L927.0,422.8 L928.7,423.9 L930.3,422.5 L932.0,423.4 L933.9,420.1 L935.7,418.4 L937.5,418.3 L939.4,418.4 L941.0,417.6 L942.7,417.6 L944.3,415.6 L946.0,417.4 L946.2,407.2 L946.5,418.1 L947.6,416.2 L949.3,414.7 L951.0,416.7 L951.2,410.0 L951.5,417.0 L952.6,419.9 L954.3,419.7 L957.4,412.0 L958.0,404.8 L958.6,424.6 L959.2,417.0 L960.9,415.5 L962.5,415.4 L964.2,413.5 L966.0,416.4 L967.9,418.4 L969.8,418.1 L971.6,418.0 L973.5,417.0 L973.7,406.0 L974.0,418.8 L975.3,416.3 L975.5,425.9 L975.8,414.5 L977.1,415.3 L979.0,414.7 L980.7,415.1 L982.3,414.1 L984.0,413.8 L985.6,412.6 L987.3,412.8 L988.9,413.4 L990.6,411.7 L992.2,411.0 L992.4,402.8 L992.6,414.2 L992.8,411.0 L993.9,412.2 L995.5,409.9 L997.2,410.7 L998.8,411.4 L1000.5,410.2 L1002.1,409.4 L1003.8,409.7 L1005.0,410.8 L1006.6,409.4 L1008.3,412.8 L1010.0,414.2 L1011.6,415.1 L1013.2,415.4 L1014.9,415.8 L1017.0,413.7 L1019.0,412.2 L1021.1,407.1 L1022.8,404.1 L1024.4,398.2 L1026.1,395.9 L1027.8,393.9 L1029.4,394.8 L1031.0,394.0 L1032.7,395.3 L1032.9,389.3 L1033.2,395.9 L1034.3,395.7 L1036.0,395.9 L1037.7,395.9 L1039.4,397.3 L1041.2,394.8 L1041.4,400.0 L1041.7,394.6 L1042.9,394.4 L1044.6,394.6 L1046.3,393.4 L1048.1,393.9 L1049.8,394.7 L1051.5,394.0 L1052.1,384.8 L1052.7,402.0 L1053.3,394.0 L1054.9,393.5 L1056.5,394.6 L1058.1,394.7 L1059.7,395.2 L1061.3,395.4 L1063.0,396.3 L1064.6,395.5 L1066.2,395.1 L1067.8,393.9 L1069.4,393.5 L1071.1,395.6 L1072.7,395.6 L1074.4,398.4 L1076.2,397.0 L1078.1,396.2 L1080.0,395.4 L1081.8,393.5 L1084.3,384.8 L1086.0,391.8 L1087.6,398.8 L1089.3,404.6 L1091.3,400.7 L1093.4,396.7 L1095.4,394.7 L1097.5,395.8 L1099.5,400.9 L1101.6,404.6 L1103.3,404.9 L1104.9,405.6 L1106.6,403.8 L1108.2,404.1 L1108.4,395.1 L1108.7,405.5 L1109.9,404.9 L1111.5,405.5 L1113.2,404.6 L1114.8,405.0 L1116.5,404.6 L1118.3,404.7 L1120.0,403.3 L1121.8,403.1 L1123.6,403.0 L1125.4,404.0 L1127.1,403.2 L1127.3,397.6 L1127.6,404.7 L1128.9,399.7 L1130.6,400.4 L1132.2,400.2 L1133.8,398.1 L1135.5,396.6 L1137.2,394.5 L1138.8,394.7 L1140.4,392.0 L1142.0,389.5 L1143.6,388.5 L1145.2,388.9 L1147.8,395.4 L1149.8,395.2 L1151.7,396.3 L1153.6,395.6 L1155.6,395.4 L1156.3,385.0 L1156.9,374.6 L1157.5,392.0 L1159.5,390.2 L1161.2,390.7 L1162.9,390.2 L1164.6,389.2 L1166.3,388.6 L1168.0,388.3 L1168.2,394.0 L1168.5,386.4 L1169.6,388.2 L1171.3,385.1 L1173.0,384.2 L1174.7,384.0 L1176.4,383.7 L1178.3,382.3 L1180.3,378.5 L1182.9,390.2 L1184.7,389.0 L1186.5,388.7 L1188.4,386.3 L1190.2,386.2 L1192.0,386.3 L1193.6,386.2 L1195.2,386.8 L1196.9,387.0 L1197.1,395.5 L1197.4,385.3 L1198.5,385.6 L1200.1,386.7 L1201.8,385.9 L1203.4,384.8 L1205.0,383.7 L1206.7,382.3 L1208.5,382.4 L1210.2,380.9 L1211.9,380.6 L1213.7,381.4 L1215.4,379.8 L1217.2,380.6 L1219.0,380.8 L1220.9,382.7 L1222.7,384.6 L1224.5,385.0 L1226.1,384.0 L1227.8,384.0 L1229.4,382.9 L1231.0,382.4 L1233.6,386.3 L1235.3,385.1 L1237.1,381.4 L1238.8,377.2 L1240.5,379.5 L1242.3,380.7 L1244.0,382.4 L1245.6,382.6 L1247.2,382.1 L1248.9,380.8 L1250.5,380.2 L1252.1,381.0 L1253.8,380.9 L1255.4,380.4 L1257.0,379.8 L1258.6,379.7 L1260.2,380.7 L1261.9,380.8 L1263.5,380.9 L1265.1,382.1 L1266.8,381.0 L1268.4,380.8 L1270.0,381.1 L1271.7,381.1 L1273.3,382.7 L1275.0,382.0 L1276.7,380.5 L1278.3,380.0 L1280.0,379.6 L1280.2,384.7 L1280.5,378.3 L1281.7,379.4 L1283.3,378.8 L1285.0,378.7 L1286.7,380.9 L1288.3,381.4 L1290.0,381.1 L1290.5,381.6 L1291.0,381.6 L1293.2,370.7 L1295.3,366.0 L1295.9,358.4 L1296.5,389.7 L1297.2,372.0 L1298.6,370.7 L1300.3,371.9 L1302.0,370.1 L1303.7,371.0 L1305.4,371.3 L1307.1,372.3 L1308.8,371.6 L1310.5,370.1 L1312.2,368.9 L1313.9,368.5 L1315.6,367.7 L1317.3,368.0 L1319.0,369.3 L1320.8,367.9 L1322.6,368.2 L1324.5,367.7 L1326.3,368.2 L1328.1,369.8 L1328.3,376.0 L1328.6,369.2 L1329.9,369.3 L1331.5,369.8 L1333.2,369.4 L1334.8,370.1 L1336.5,368.8 L1338.1,369.7 L1339.7,368.4 L1341.4,369.7 L1343.0,369.3 L1343.6,362.0 L1344.2,376.0 L1344.8,369.3 L1346.5,368.5 L1348.1,369.9 L1349.8,369.6 L1351.4,370.2 L1353.0,369.2 L1354.7,370.9 L1356.3,369.1 L1358.0,369.0 L1358.2,373.2 L1358.5,367.1 L1359.6,368.4 L1361.3,370.7 L1362.9,365.6 L1364.5,365.3 L1366.2,363.5 L1367.8,361.8 L1369.4,361.1 L1372.2,373.4 L1373.9,373.0 L1375.6,373.7 L1377.2,373.2 L1378.9,373.8 L1380.6,372.3 L1382.3,372.1 L1383.9,370.8 L1385.6,370.9 L1387.3,368.7 L1389.0,370.5 L1390.6,370.3 L1392.3,369.9 L1394.0,369.3 L1395.7,370.0 L1397.4,371.0 L1399.1,369.6 L1400.8,370.0 L1402.5,369.6 L1404.2,368.7 L1405.9,369.0 L1407.6,370.7 L1410.3,373.4 L1411.9,371.7 L1413.6,372.5 L1415.2,373.0 L1416.8,372.4 L1418.5,371.4 L1420.1,371.3 L1421.7,370.9 L1423.4,370.0 L1425.0,370.7 L1426.8,369.6 L1428.7,370.4 L1430.5,369.5 L1432.3,368.7 L1432.5,377.6 L1432.8,367.6 L1434.2,368.0 L1436.0,368.1 L1437.7,368.0 L1439.3,367.9 L1441.0,366.9 L1442.6,367.0 L1444.2,367.0 L1445.9,367.6 L1447.5,366.4 L1449.2,366.2 L1450.8,365.8 L1452.5,364.8 L1454.1,364.5 L1455.8,364.6 L1457.4,365.1 L1459.1,364.6 L1460.7,364.7 L1462.4,364.9 L1464.0,365.9 L1465.7,364.7 L1467.3,365.1 L1469.0,365.6 L1470.6,364.7 L1472.2,364.0 L1473.9,364.8 L1475.5,365.2 L1477.2,366.1 L1478.8,365.9 L1480.5,365.9 L1482.1,365.8 L1483.8,368.7 L1485.5,370.4 L1487.3,372.4 L1489.0,375.0 L1490.6,374.7 L1492.3,373.3 L1493.9,371.9 L1495.6,371.7 L1497.2,370.4 L1498.9,370.5 L1500.5,370.0 L1502.1,368.5 L1503.8,369.1 L1505.4,369.0 L1507.1,367.1 L1508.7,366.1 L1510.4,365.6 L1512.0,364.6 L1513.8,371.3 L1515.5,377.3 L1517.2,375.8 L1518.8,374.9 L1520.5,374.1 L1522.2,373.3 L1523.8,371.8 L1525.5,371.2 L1527.2,369.0 L1528.8,367.0 L1530.5,365.8 L1532.2,366.5 L1534.0,366.1 L1535.8,364.4 L1537.5,363.6 L1539.2,363.3 L1541.0,362.0 L1541.7,356.0 L1542.3,368.0 L1543.0,361.0 L1544.6,361.3 L1546.3,360.9 L1547.9,360.2 L1549.6,358.9 L1551.2,358.9 L1553.0,357.8 L1554.8,357.5 L1556.6,356.9 L1556.8,344.9 L1557.0,362.9 L1557.2,356.9 L1558.4,357.3 L1560.2,356.9 L1562.0,357.0 L1562.7,348.5 L1563.3,361.0 L1564.0,357.0 L1565.7,357.5 L1567.4,357.3 L1569.1,358.3 L1570.8,359.2 L1572.5,358.6 L1574.2,358.9 L1575.8,358.8 L1577.5,359.2 L1579.1,358.2 L1580.8,358.7 L1582.4,357.4 L1584.1,357.6 L1585.7,357.5 L1587.3,358.1 L1589.0,359.0 L1590.6,359.4 L1592.3,359.6 L1593.9,359.1 L1595.6,359.3 L1597.2,358.9 L1599.5,362.3 L1601.8,366.9 L1603.4,366.0 L1603.6,369.9 L1603.9,365.3 L1605.1,365.9 L1606.7,366.3 L1608.3,366.1 L1609.9,365.0 L1611.6,364.9 L1613.2,364.3 L1614.8,363.3 L1616.5,362.5 L1618.1,361.8 L1619.7,362.2 L1621.4,361.3 L1623.0,361.5 L1624.6,361.1 L1626.2,360.7 L1627.9,359.7 L1629.5,360.0 L1631.8,369.2 L1633.4,369.4 L1635.0,368.6 L1636.6,368.4 L1636.8,374.8 L1637.1,366.5 L1638.2,367.7 L1639.8,367.6 L1641.5,366.3 L1643.1,367.0 L1644.7,366.9 L1646.3,366.1 L1647.9,366.2 L1649.5,365.4 L1651.1,364.9 L1652.7,364.1 L1654.3,363.6 L1656.0,362.6 L1657.6,361.8 L1659.2,362.2 L1659.4,371.8 L1659.7,362.2 L1660.8,362.5 L1662.4,361.4 L1664.0,361.2 L1665.1,370.4 L1666.8,369.3 L1668.4,368.8 L1670.1,369.0 L1671.8,368.0 L1673.4,367.0 L1675.1,367.1 L1676.8,367.0 L1678.5,366.2 L1680.1,366.2 L1681.8,365.3 L1683.5,365.0 L1685.1,363.8 L1686.8,365.0 L1688.5,364.1 L1690.2,364.0 L1691.8,362.8 L1693.5,362.1 L1695.2,361.7 L1696.8,361.2 L1698.5,361.2 L1700.8,370.4 L1702.5,369.8 L1704.1,369.6 L1705.8,368.8 L1707.5,368.7 L1709.1,368.6 L1710.8,368.2 L1712.5,367.5 L1714.1,366.3 L1715.8,364.2 L1717.5,364.1 L1719.1,363.5 L1720.8,363.2 L1722.5,362.9 L1724.1,362.9 L1725.8,362.1 L1727.5,361.3 L1729.1,360.4 L1730.8,360.0 L1733.1,368.1 L1734.8,368.0 L1736.5,367.5 L1738.2,366.3 L1739.8,365.4 L1741.5,365.3 L1743.2,363.9 L1744.9,362.9 L1746.6,362.2 L1748.3,363.2 L1750.0,362.7 L1751.7,361.7 L1753.3,360.9 L1755.0,360.1 L1756.7,359.7 L1758.4,358.9 L1760.7,369.2 L1762.3,369.4 L1763.9,368.8 L1765.5,368.6 L1767.2,367.9 L1768.8,367.1 L1770.4,366.0 L1772.0,365.8 L1773.6,364.4 L1775.2,364.2 L1776.8,364.0 L1778.5,363.3 L1778.7,372.8 L1779.0,361.9 L1780.1,364.0 L1781.7,363.6 L1783.3,362.9 L1784.9,362.4 L1786.5,360.9 L1788.2,360.6 L1789.8,359.6 L1791.4,359.6 L1793.0,358.9 L1794.7,362.5 L1796.4,366.9 L1798.1,366.9 L1799.7,367.0 L1801.4,366.4 L1803.0,366.4 L1804.7,366.0 L1806.3,366.1 L1808.0,364.8 L1809.6,364.1 L1811.2,363.8 L1812.9,363.7 L1814.6,363.4 L1816.2,362.4 L1817.9,362.6 L1819.5,362.5 L1821.2,361.6 L1822.8,361.7 L1824.5,362.4 L1824.7,366.1 L1825.0,362.3 L1826.1,360.2 L1827.8,359.7 L1828.0,369.5 L1828.2,358.8 L1829.4,359.1 L1831.1,359.2 L1832.7,359.4 L1834.4,359.5 L1836.0,359.5 L1837.7,358.4 L1839.3,357.7 L1841.0,357.3 L1842.6,357.2 L1844.2,357.2 L1845.9,356.6 L1848.2,346.2 L1848.2,368.1" fill="none" stroke="#808000" stroke-width="3.2" stroke-linejoin="round" stroke-linecap="butt" shape-rendering="crispEdges"/>
<text transform="translate(201.73,1457.5) scale(0.955,1)" font-family="Liberation Sans, sans-serif" stroke="#000" stroke-width="0.45" font-size="52.6">0</text>
<text transform="translate(349.15,1457.5) scale(0.955,1)" font-family="Liberation Sans, sans-serif" stroke="#000" stroke-width="0.45" font-size="52.6">2</text>
<text transform="translate(496.83,1457.5) scale(0.955,1)" font-family="Liberation Sans, sans-serif" stroke="#000" stroke-width="0.45" font-size="52.6">4</text>
<text transform="translate(643.99,1457.5) scale(0.955,1)" font-family="Liberation Sans, sans-serif" stroke="#000" stroke-width="0.45" font-size="52.6">6</text>
<text transform="translate(791.67,1457.5) scale(0.955,1)" font-family="Liberation Sans, sans-serif" stroke="#000" stroke-width="0.45" font-size="52.6">8</text>
<text transform="translate(924.02,1457.5) scale(0.955,1)" font-family="Liberation Sans, sans-serif" stroke="#000" stroke-width="0.45" font-size="52.6">10</text>
<text transform="translate(1071.69,1457.5) scale(0.955,1)" font-family="Liberation Sans, sans-serif" stroke="#000" stroke-width="0.45" font-size="52.6">12</text>
<text transform="translate(1218.6,1457.5) scale(0.955,1)" font-family="Liberation Sans, sans-serif" stroke="#000" stroke-width="0.45" font-size="52.6">14</text>
<text transform="translate(1366.28,1457.5) scale(0.955,1)" font-family="Liberation Sans, sans-serif" stroke="#000" stroke-width="0.45" font-size="52.6">16</text>
<text transform="translate(1513.7,1457.5) scale(0.955,1)" font-family="Liberation Sans, sans-serif" stroke="#000" stroke-width="0.45" font-size="52.6">18</text>
<text transform="translate(1661.87,1457.5) scale(0.955,1)" font-family="Liberation Sans, sans-serif" stroke="#000" stroke-width="0.45" font-size="52.6">20</text>
<text transform="translate(1809.54,1457.5) scale(0.955,1)" font-family="Liberation Sans, sans-serif" stroke="#000" stroke-width="0.45" font-size="52.6">22</text>
<text transform="translate(1956.46,1457.5) scale(0.955,1)" font-family="Liberation Sans, sans-serif" stroke="#000" stroke-width="0.45" font-size="52.6">24</text>
<text transform="translate(158.88,1405.1) scale(0.955,1)" font-family="Liberation Sans, sans-serif" stroke="#000" stroke-width="0.45" font-size="52.6">0</text>
<text transform="translate(131.25,1272.65) scale(0.955,1)" font-family="Liberation Sans, sans-serif" stroke="#000" stroke-width="0.45" font-size="52.6">20</text>
<text transform="translate(131.25,1140.2) scale(0.955,1)" font-family="Liberation Sans, sans-serif" stroke="#000" stroke-width="0.45" font-size="52.6">40</text>
<text transform="translate(131.25,1007.75) scale(0.955,1)" font-family="Liberation Sans, sans-serif" stroke="#000" stroke-width="0.45" font-size="52.6">60</text>
<text transform="translate(131.25,875.3) scale(0.955,1)" font-family="Liberation Sans, sans-serif" stroke="#000" stroke-width="0.45" font-size="52.6">80</text>
<text transform="translate(103.12,742.85) scale(0.955,1)" font-family="Liberation Sans, sans-serif" stroke="#000" stroke-width="0.45" font-size="52.6">100</text>
<text transform="translate(103.12,610.4) scale(0.955,1)" font-family="Liberation Sans, sans-serif" stroke="#000" stroke-width="0.45" font-size="52.6">120</text>
<text transform="translate(103.12,477.95) scale(0.955,1)" font-family="Liberation Sans, sans-serif" stroke="#000" stroke-width="0.45" font-size="52.6">140</text>
<text transform="translate(103.12,345.5) scale(0.955,1)" font-family="Liberation Sans, sans-serif" stroke="#000" stroke-width="0.45" font-size="52.6">160</text>
<text transform="translate(103.12,213.05) scale(0.955,1)" font-family="Liberation Sans, sans-serif" stroke="#000" stroke-width="0.45" font-size="52.6">180</text>
<text transform="translate(103.12,80.6) scale(0.955,1)" font-family="Liberation Sans, sans-serif" stroke="#000" stroke-width="0.45" font-size="52.6">200</text>
<text transform="translate(750.59,1560) scale(0.7726,0.8405)" x="0" y="0" font-family="Liberation Sans, sans-serif" font-weight="bold" font-size="100">Engineering strain/%</text>
<text transform="translate(90,1137.58) rotate(-90) scale(0.7965,0.8406)" font-family="Liberation Sans, sans-serif" font-weight="bold" font-size="100">Engineering stress/MPa</text>
<text transform="translate(292.81,184.33) scale(1.0214,1.0367)" x="0" y="0" font-family="Liberation Serif, serif" stroke="#000" stroke-width="0.777" font-size="100">(a)</text>
<text transform="translate(283.37,332) scale(0.7254,0.7727)" x="0" y="0" font-family="Liberation Serif, serif" stroke="#000" stroke-width="1.069" font-size="100">13.80μm</text>
<text transform="translate(1098.49,137) scale(0.7127,0.7727)" x="0" y="0" font-family="Liberation Serif, serif" stroke="#000" stroke-width="1.078" font-size="100">12.56μm</text>
<text transform="translate(1407.2,137) scale(0.7225,0.7727)" x="0" y="0" font-family="Liberation Serif, serif" stroke="#000" stroke-width="1.071" font-size="100">19.46μm</text>
<text transform="translate(934.03,549.1) scale(0.7429,0.7742)" x="0" y="0" font-family="Liberation Serif, serif" stroke="#000" stroke-width="1.055" font-size="100">28.11μm</text>
<text transform="translate(1363.08,522.4) scale(0.7311,0.7773)" x="0" y="0" font-family="Liberation Serif, serif" stroke="#000" stroke-width="1.061" font-size="100">21.68μm</text>
<text transform="translate(1610.87,650.8) scale(0.7322,0.7697)" x="0" y="0" font-family="Liberation Serif, serif" stroke="#000" stroke-width="1.066" font-size="100">29.19μm</text>
<line x1="1472" y1="741.2" x2="1615" y2="741.2" stroke="#000000" stroke-width="2.6" stroke-linecap="round"/>
<text transform="translate(1635.17,763.9) scale(0.7361,0.7879)" x="0" y="0" font-family="Liberation Serif, serif" stroke="#000" stroke-width="1.050" font-size="100">12.56μm</text>
<line x1="1472" y1="836.14" x2="1615" y2="836.14" stroke="#FF0000" stroke-width="2.6" stroke-linecap="round"/>
<text transform="translate(1635.17,858.7) scale(0.7361,0.7879)" x="0" y="0" font-family="Liberation Serif, serif" stroke="#000" stroke-width="1.050" font-size="100">13.80μm</text>
<line x1="1472" y1="931.08" x2="1615" y2="931.08" stroke="#0000FF" stroke-width="2.6" stroke-linecap="round"/>
<text transform="translate(1635.17,953.5) scale(0.7361,0.7879)" x="0" y="0" font-family="Liberation Serif, serif" stroke="#000" stroke-width="1.050" font-size="100">19.46μm</text>
<line x1="1472" y1="1026.02" x2="1615" y2="1026.02" stroke="#008080" stroke-width="2.6" stroke-linecap="round"/>
<text transform="translate(1631.82,1048.3) scale(0.7456,0.7879)" x="0" y="0" font-family="Liberation Serif, serif" stroke="#000" stroke-width="1.044" font-size="100">21.68μm</text>
<line x1="1472" y1="1120.96" x2="1615" y2="1120.96" stroke="#FF00FF" stroke-width="2.6" stroke-linecap="round"/>
<text transform="translate(1631.78,1143.1) scale(0.7542,0.7879)" x="0" y="0" font-family="Liberation Serif, serif" stroke="#000" stroke-width="1.038" font-size="100">28.11μm</text>
<line x1="1472" y1="1215.9" x2="1615" y2="1215.9" stroke="#808000" stroke-width="2.6" stroke-linecap="round"/>
<text transform="translate(1631.82,1237.9) scale(0.7456,0.7879)" x="0" y="0" font-family="Liberation Serif, serif" stroke="#000" stroke-width="1.044" font-size="100">29.19μm</text>
<line x1="380.8" y1="351.5" x2="452.65" y2="431.05" stroke="#000" stroke-width="3"/><polygon points="474.1,454.8 444.26,435.94 458.36,423.2" fill="#000"/>
<line x1="1354.2" y1="133.7" x2="1363.01" y2="200.48" stroke="#000" stroke-width="3"/><polygon points="1367.2,232.2 1353.33,199.74 1372.17,197.25" fill="#000"/>
<line x1="1505" y1="147.7" x2="1511.7" y2="218.94" stroke="#000" stroke-width="3"/><polygon points="1514.7,250.8 1502.06,217.84 1520.97,216.06" fill="#000"/>
<line x1="993.5" y1="477.9" x2="1097.85" y2="366.28" stroke="#000" stroke-width="3"/><polygon points="1119.7,342.9 1103.42,374.23 1089.54,361.25" fill="#000"/>
<line x1="1477.2" y1="453.3" x2="1599.38" y2="324.52" stroke="#000" stroke-width="3"/><polygon points="1621.4,301.3 1604.89,332.5 1591.11,319.43" fill="#000"/>
<line x1="1685.1" y1="570.7" x2="1704.37" y2="410.97" stroke="#000" stroke-width="3"/><polygon points="1708.2,379.2 1713.56,414.09 1694.7,411.82" fill="#000"/>
</svg>
</body></html>
